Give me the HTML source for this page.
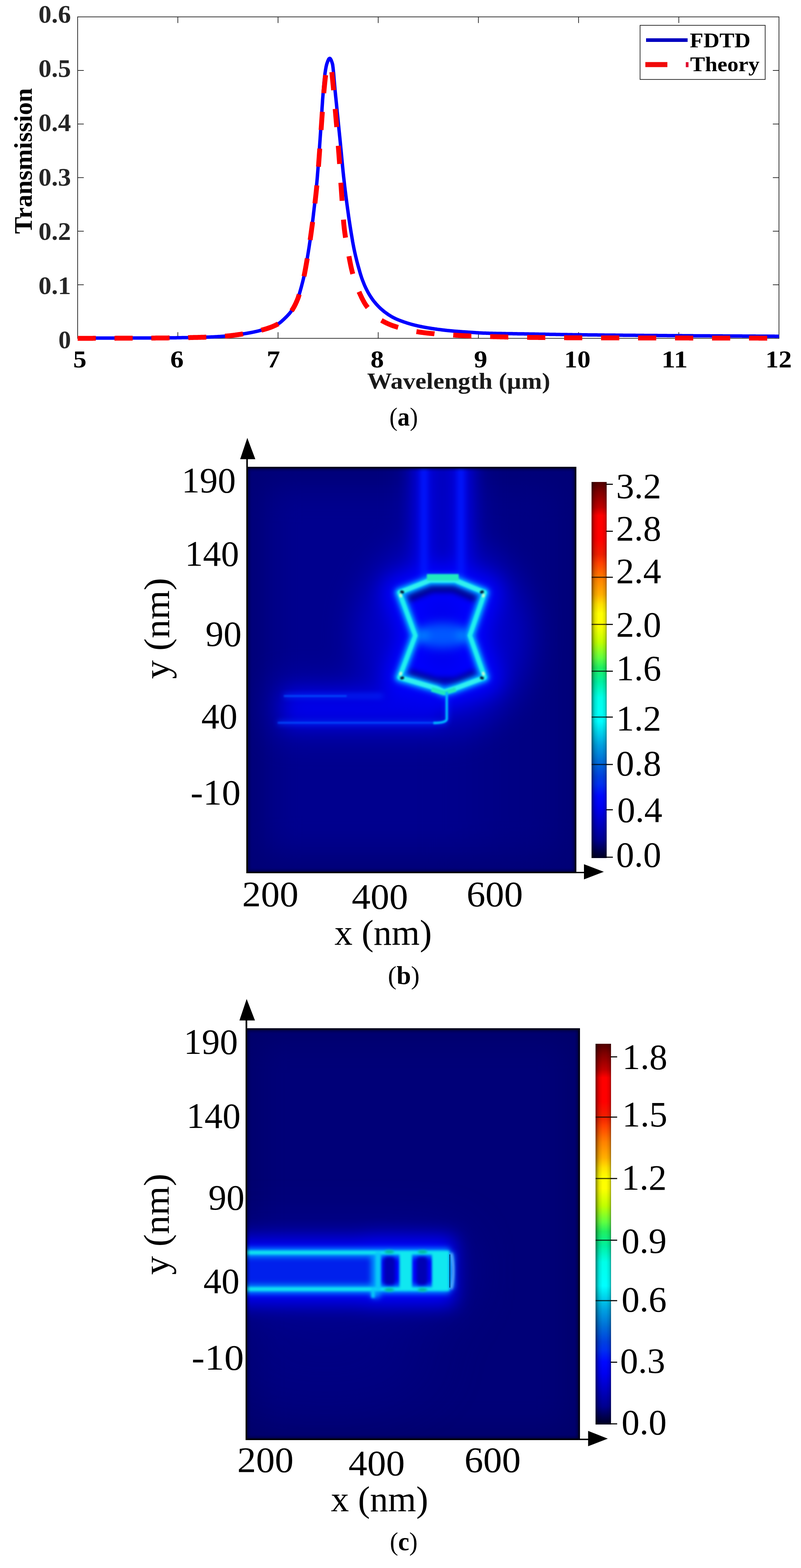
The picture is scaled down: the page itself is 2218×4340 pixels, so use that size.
<!DOCTYPE html>
<html lang="en"><head><meta charset="utf-8"><title>Figure</title>
<style>html,body{margin:0;padding:0;background:#fff;}body{width:2218px;height:4340px;overflow:hidden;}svg{display:block;font-family:'Liberation Serif', 'DejaVu Serif', serif;}text{white-space:pre;}</style>
</head><body>
<svg width="2218" height="4340" viewBox="0 0 2218 4340">
<rect width="2218" height="4340" fill="#fff"/>
<defs>
<linearGradient id="jet" x1="0" y1="1" x2="0" y2="0">
<stop offset="0.000" stop-color="#000020"/>
<stop offset="0.048" stop-color="#000090"/>
<stop offset="0.090" stop-color="#0000c0"/>
<stop offset="0.133" stop-color="#0000f0"/>
<stop offset="0.165" stop-color="#0008ff"/>
<stop offset="0.196" stop-color="#0030f0"/>
<stop offset="0.217" stop-color="#0040e0"/>
<stop offset="0.259" stop-color="#0070d8"/>
<stop offset="0.300" stop-color="#00a0e0"/>
<stop offset="0.343" stop-color="#00e0f0"/>
<stop offset="0.364" stop-color="#00ffff"/>
<stop offset="0.427" stop-color="#00ffe8"/>
<stop offset="0.469" stop-color="#00f0a0"/>
<stop offset="0.507" stop-color="#20f060"/>
<stop offset="0.532" stop-color="#60ff40"/>
<stop offset="0.574" stop-color="#c0ff00"/>
<stop offset="0.620" stop-color="#ffff00"/>
<stop offset="0.650" stop-color="#ffff00"/>
<stop offset="0.675" stop-color="#ffe000"/>
<stop offset="0.700" stop-color="#ffb000"/>
<stop offset="0.743" stop-color="#ff8000"/>
<stop offset="0.785" stop-color="#ff4000"/>
<stop offset="0.807" stop-color="#f02000"/>
<stop offset="0.848" stop-color="#ff0000"/>
<stop offset="0.911" stop-color="#ff0000"/>
<stop offset="0.932" stop-color="#c00000"/>
<stop offset="0.974" stop-color="#800000"/>
<stop offset="1.000" stop-color="#500000"/>
</linearGradient>
<linearGradient id="cbsh" x1="0" y1="0" x2="1" y2="0"><stop offset="0" stop-color="#000" stop-opacity="0.5"/><stop offset="0.22" stop-color="#000" stop-opacity="0.12"/><stop offset="0.45" stop-color="#000" stop-opacity="0"/><stop offset="0.7" stop-color="#000" stop-opacity="0"/><stop offset="0.9" stop-color="#000" stop-opacity="0.12"/><stop offset="1" stop-color="#000" stop-opacity="0.4"/></linearGradient>
</defs>
<g id="panel-a">
<rect x="215.0" y="46.7" width="1942.0" height="889.8" fill="none" stroke="#262626" stroke-width="2"/>
<line x1="492.4" y1="936.5" x2="492.4" y2="919.5" stroke="#262626" stroke-width="2"/>
<line x1="492.4" y1="46.7" x2="492.4" y2="63.7" stroke="#262626" stroke-width="2"/>
<line x1="769.9" y1="936.5" x2="769.9" y2="919.5" stroke="#262626" stroke-width="2"/>
<line x1="769.9" y1="46.7" x2="769.9" y2="63.7" stroke="#262626" stroke-width="2"/>
<line x1="1047.3" y1="936.5" x2="1047.3" y2="919.5" stroke="#262626" stroke-width="2"/>
<line x1="1047.3" y1="46.7" x2="1047.3" y2="63.7" stroke="#262626" stroke-width="2"/>
<line x1="1324.7" y1="936.5" x2="1324.7" y2="919.5" stroke="#262626" stroke-width="2"/>
<line x1="1324.7" y1="46.7" x2="1324.7" y2="63.7" stroke="#262626" stroke-width="2"/>
<line x1="1602.1" y1="936.5" x2="1602.1" y2="919.5" stroke="#262626" stroke-width="2"/>
<line x1="1602.1" y1="46.7" x2="1602.1" y2="63.7" stroke="#262626" stroke-width="2"/>
<line x1="1879.6" y1="936.5" x2="1879.6" y2="919.5" stroke="#262626" stroke-width="2"/>
<line x1="1879.6" y1="46.7" x2="1879.6" y2="63.7" stroke="#262626" stroke-width="2"/>
<line x1="215.0" y1="788.2" x2="232.0" y2="788.2" stroke="#262626" stroke-width="2"/>
<line x1="2157.0" y1="788.2" x2="2140.0" y2="788.2" stroke="#262626" stroke-width="2"/>
<line x1="215.0" y1="639.9" x2="232.0" y2="639.9" stroke="#262626" stroke-width="2"/>
<line x1="2157.0" y1="639.9" x2="2140.0" y2="639.9" stroke="#262626" stroke-width="2"/>
<line x1="215.0" y1="491.6" x2="232.0" y2="491.6" stroke="#262626" stroke-width="2"/>
<line x1="2157.0" y1="491.6" x2="2140.0" y2="491.6" stroke="#262626" stroke-width="2"/>
<line x1="215.0" y1="343.3" x2="232.0" y2="343.3" stroke="#262626" stroke-width="2"/>
<line x1="2157.0" y1="343.3" x2="2140.0" y2="343.3" stroke="#262626" stroke-width="2"/>
<line x1="215.0" y1="195.0" x2="232.0" y2="195.0" stroke="#262626" stroke-width="2"/>
<line x1="2157.0" y1="195.0" x2="2140.0" y2="195.0" stroke="#262626" stroke-width="2"/>
<path d="M215.0,935.9 L216.4,935.9 L217.8,935.9 L219.2,935.9 L220.5,935.9 L221.9,935.9 L223.3,935.9 L224.7,935.9 L226.1,935.9 L227.5,935.9 L228.9,935.9 L230.3,935.9 L231.6,935.9 L233.0,935.9 L234.4,935.9 L235.8,935.9 L237.2,935.9 L238.6,935.8 L240.0,935.8 L241.4,935.8 L242.7,935.8 L244.1,935.8 L245.5,935.8 L246.9,935.8 L248.3,935.8 L249.7,935.8 L251.1,935.8 L252.5,935.8 L253.8,935.8 L255.2,935.8 L256.6,935.8 L258.0,935.8 L259.4,935.8 L260.8,935.8 L262.2,935.8 L263.5,935.8 L264.9,935.8 L266.3,935.8 L267.7,935.8 L269.1,935.8 L270.5,935.8 L271.9,935.8 L273.3,935.8 L274.6,935.8 L276.0,935.8 L277.4,935.8 L278.8,935.8 L280.2,935.8 L281.6,935.8 L283.0,935.8 L284.4,935.8 L285.7,935.8 L287.1,935.7 L288.5,935.7 L289.9,935.7 L291.3,935.7 L292.7,935.7 L294.1,935.7 L295.5,935.7 L296.8,935.7 L298.2,935.7 L299.6,935.7 L301.0,935.7 L302.4,935.7 L303.8,935.7 L305.2,935.7 L306.6,935.7 L307.9,935.7 L309.3,935.7 L310.7,935.7 L312.1,935.7 L313.5,935.7 L314.9,935.7 L316.3,935.7 L317.6,935.7 L319.0,935.7 L320.4,935.7 L321.8,935.7 L323.2,935.7 L324.6,935.7 L326.0,935.7 L327.4,935.7 L328.7,935.7 L330.1,935.7 L331.5,935.7 L332.9,935.7 L334.3,935.7 L335.7,935.6 L337.1,935.6 L338.5,935.6 L339.8,935.6 L341.2,935.6 L342.6,935.6 L344.0,935.6 L345.4,935.6 L346.8,935.6 L348.2,935.6 L349.6,935.6 L350.9,935.6 L352.3,935.6 L353.7,935.6 L355.1,935.6 L356.5,935.6 L357.9,935.6 L359.3,935.6 L360.7,935.6 L362.0,935.6 L363.4,935.6 L364.8,935.6 L366.2,935.6 L367.6,935.6 L369.0,935.6 L370.4,935.6 L371.7,935.6 L373.1,935.6 L374.5,935.5 L375.9,935.5 L377.3,935.5 L378.7,935.5 L380.1,935.5 L381.5,935.5 L382.8,935.5 L384.2,935.5 L385.6,935.5 L387.0,935.5 L388.4,935.5 L389.8,935.5 L391.2,935.5 L392.6,935.5 L393.9,935.5 L395.3,935.5 L396.7,935.5 L398.1,935.5 L399.5,935.5 L400.9,935.5 L402.3,935.5 L403.7,935.5 L405.0,935.4 L406.4,935.4 L407.8,935.4 L409.2,935.4 L410.6,935.4 L412.0,935.4 L413.4,935.4 L414.7,935.4 L416.1,935.4 L417.5,935.4 L418.9,935.4 L420.3,935.4 L421.7,935.4 L423.1,935.4 L424.5,935.4 L425.8,935.4 L427.2,935.4 L428.6,935.4 L430.0,935.3 L431.4,935.3 L432.8,935.3 L434.2,935.3 L435.6,935.3 L436.9,935.3 L438.3,935.3 L439.7,935.3 L441.1,935.3 L442.5,935.3 L443.9,935.3 L445.3,935.3 L446.7,935.3 L448.0,935.3 L449.4,935.2 L450.8,935.2 L452.2,935.2 L453.6,935.2 L455.0,935.2 L456.4,935.2 L457.8,935.2 L459.1,935.2 L460.5,935.2 L461.9,935.1 L463.3,935.1 L464.7,935.1 L466.1,935.1 L467.5,935.1 L468.8,935.1 L470.2,935.1 L471.6,935.0 L473.0,935.0 L474.4,935.0 L475.8,935.0 L477.2,935.0 L478.6,935.0 L479.9,935.0 L481.3,934.9 L482.7,934.9 L484.1,934.9 L485.5,934.9 L486.9,934.9 L488.3,934.9 L489.7,934.8 L491.0,934.8 L492.4,934.8 L493.8,934.8 L495.2,934.8 L496.6,934.7 L498.0,934.7 L499.4,934.7 L500.8,934.7 L502.1,934.7 L503.5,934.6 L504.9,934.6 L506.3,934.6 L507.7,934.6 L509.1,934.6 L510.5,934.5 L511.8,934.5 L513.2,934.5 L514.6,934.5 L516.0,934.4 L517.4,934.4 L518.8,934.4 L520.2,934.4 L521.6,934.3 L522.9,934.3 L524.3,934.3 L525.7,934.3 L527.1,934.2 L528.5,934.2 L529.9,934.2 L531.3,934.2 L532.7,934.1 L534.0,934.1 L535.4,934.1 L536.8,934.0 L538.2,934.0 L539.6,934.0 L541.0,934.0 L542.4,933.9 L543.8,933.9 L545.1,933.9 L546.5,933.8 L547.9,933.8 L549.3,933.8 L550.7,933.7 L552.1,933.7 L553.5,933.7 L554.8,933.7 L556.2,933.6 L557.6,933.6 L559.0,933.6 L560.4,933.5 L561.8,933.5 L563.2,933.5 L564.6,933.4 L565.9,933.4 L567.3,933.3 L568.7,933.3 L570.1,933.2 L571.5,933.2 L572.9,933.2 L574.3,933.1 L575.7,933.1 L577.0,933.0 L578.4,932.9 L579.8,932.9 L581.2,932.8 L582.6,932.8 L584.0,932.7 L585.4,932.6 L586.8,932.6 L588.1,932.5 L589.5,932.4 L590.9,932.4 L592.3,932.3 L593.7,932.2 L595.1,932.2 L596.5,932.1 L597.9,932.0 L599.2,931.9 L600.6,931.9 L602.0,931.8 L603.4,931.7 L604.8,931.6 L606.2,931.5 L607.6,931.4 L608.9,931.4 L610.3,931.3 L611.7,931.2 L613.1,931.1 L614.5,931.0 L615.9,930.9 L617.3,930.8 L618.7,930.7 L620.0,930.6 L621.4,930.5 L622.8,930.4 L624.2,930.3 L625.6,930.2 L627.0,930.1 L628.4,930.0 L629.8,929.8 L631.1,929.7 L632.5,929.6 L633.9,929.4 L635.3,929.3 L636.7,929.1 L638.1,929.0 L639.5,928.8 L640.9,928.7 L642.2,928.5 L643.6,928.4 L645.0,928.2 L646.4,928.0 L647.8,927.8 L649.2,927.7 L650.6,927.5 L652.0,927.3 L653.3,927.1 L654.7,926.9 L656.1,926.7 L657.5,926.5 L658.9,926.3 L660.3,926.1 L661.7,925.9 L663.0,925.7 L664.4,925.5 L665.8,925.3 L667.2,925.1 L668.6,924.9 L670.0,924.7 L671.4,924.5 L672.8,924.3 L674.1,924.0 L675.5,923.8 L676.9,923.6 L678.3,923.4 L679.7,923.2 L681.1,922.9 L682.5,922.7 L683.9,922.5 L685.2,922.3 L686.6,922.0 L688.0,921.8 L689.4,921.5 L690.8,921.3 L692.2,921.0 L693.6,920.8 L695.0,920.5 L696.3,920.2 L697.7,920.0 L699.1,919.7 L700.5,919.4 L701.9,919.1 L703.3,918.8 L704.7,918.5 L706.0,918.2 L707.4,917.9 L708.8,917.6 L710.2,917.3 L711.6,917.0 L713.0,916.6 L714.4,916.3 L715.8,916.0 L717.1,915.6 L718.5,915.3 L719.9,914.9 L721.3,914.5 L722.7,914.2 L724.1,913.8 L725.5,913.4 L726.9,913.1 L728.2,912.7 L729.6,912.3 L731.0,911.9 L732.4,911.5 L733.8,911.1 L735.2,910.7 L736.6,910.2 L738.0,909.8 L739.3,909.4 L740.7,908.9 L742.1,908.5 L743.5,908.0 L744.9,907.5 L746.3,907.1 L747.7,906.6 L749.0,906.0 L750.4,905.5 L751.8,905.0 L753.2,904.4 L754.6,903.9 L756.0,903.3 L757.4,902.7 L758.8,902.1 L760.1,901.5 L761.5,900.8 L762.9,900.2 L764.3,899.5 L765.7,898.8 L767.1,898.1 L768.5,897.4 L769.9,896.6 L771.2,895.8 L772.6,894.9 L774.0,894.0 L775.4,892.9 L776.8,891.9 L778.2,890.7 L779.6,889.6 L781.0,888.3 L782.3,887.1 L783.7,885.8 L785.1,884.5 L786.5,883.2 L787.9,881.8 L789.3,880.5 L790.7,879.1 L792.1,877.8 L793.4,876.4 L794.8,875.0 L796.2,873.6 L797.6,872.1 L799.0,870.6 L800.4,869.0 L801.8,867.4 L803.1,865.8 L804.5,864.0 L805.9,862.2 L807.3,860.3 L808.7,858.3 L810.1,856.3 L811.5,854.1 L812.9,851.7 L814.2,849.3 L815.6,846.7 L817.0,844.0 L818.4,841.1 L819.8,838.1 L821.2,835.0 L822.6,831.7 L824.0,828.3 L825.3,824.7 L826.7,820.6 L828.1,816.2 L829.5,811.5 L830.9,806.6 L832.3,801.6 L833.7,796.6 L835.1,791.5 L836.4,786.4 L837.8,781.1 L839.2,775.5 L840.6,769.7 L842.0,763.6 L843.4,757.1 L844.8,749.9 L846.2,742.3 L847.5,734.3 L848.9,726.3 L850.3,718.2 L851.7,709.8 L853.1,701.3 L854.5,692.6 L855.9,683.8 L857.2,674.9 L858.6,665.6 L860.0,655.6 L861.4,645.3 L862.8,634.8 L864.2,624.1 L865.6,613.2 L867.0,601.9 L868.3,590.4 L869.7,578.4 L871.1,566.1 L872.5,553.3 L873.9,540.0 L875.3,526.2 L876.7,511.9 L878.1,497.0 L879.4,480.8 L880.8,463.1 L882.2,444.3 L883.6,424.7 L885.0,404.5 L886.4,384.1 L887.8,363.7 L889.2,342.9 L890.5,320.5 L891.9,297.9 L893.3,276.5 L894.7,257.8 L896.1,240.7 L897.5,225.0 L898.9,211.6 L900.2,201.4 L901.6,192.5 L903.0,184.8 L904.4,178.8 L905.8,174.4 L907.2,170.5 L908.6,167.0 L910.0,164.2 L911.3,162.3 L912.7,161.5 L914.1,162.0 L915.5,163.7 L916.9,166.3 L918.3,169.7 L919.7,173.7 L921.1,178.8 L922.4,188.9 L923.8,203.2 L925.2,219.8 L926.6,236.7 L928.0,251.9 L929.4,265.8 L930.8,279.6 L932.2,293.4 L933.5,307.2 L934.9,321.0 L936.3,334.8 L937.7,348.6 L939.1,362.4 L940.5,376.3 L941.9,390.2 L943.2,404.1 L944.6,418.4 L946.0,433.1 L947.4,447.9 L948.8,462.5 L950.2,476.7 L951.6,490.1 L953.0,502.4 L954.3,514.2 L955.7,525.7 L957.1,536.9 L958.5,547.9 L959.9,558.6 L961.3,569.1 L962.7,579.3 L964.1,589.3 L965.4,599.1 L966.8,608.6 L968.2,617.9 L969.6,626.9 L971.0,635.8 L972.4,644.4 L973.8,652.8 L975.2,661.0 L976.5,669.0 L977.9,676.5 L979.3,683.8 L980.7,690.7 L982.1,697.2 L983.5,703.5 L984.9,709.5 L986.3,715.2 L987.6,720.8 L989.0,726.1 L990.4,731.3 L991.8,736.4 L993.2,741.4 L994.6,746.3 L996.0,751.2 L997.3,755.9 L998.7,760.5 L1000.1,764.9 L1001.5,769.1 L1002.9,773.0 L1004.3,776.8 L1005.7,780.3 L1007.1,783.8 L1008.4,787.1 L1009.8,790.4 L1011.2,793.5 L1012.6,796.5 L1014.0,799.4 L1015.4,802.2 L1016.8,804.9 L1018.2,807.5 L1019.5,809.9 L1020.9,812.4 L1022.3,814.7 L1023.7,817.0 L1025.1,819.3 L1026.5,821.4 L1027.9,823.5 L1029.3,825.6 L1030.6,827.5 L1032.0,829.5 L1033.4,831.3 L1034.8,833.1 L1036.2,834.9 L1037.6,836.6 L1039.0,838.2 L1040.3,839.9 L1041.7,841.4 L1043.1,843.0 L1044.5,844.5 L1045.9,846.0 L1047.3,847.5 L1048.7,848.9 L1050.1,850.3 L1051.4,851.6 L1052.8,852.9 L1054.2,854.2 L1055.6,855.5 L1057.0,856.7 L1058.4,857.9 L1059.8,859.1 L1061.2,860.2 L1062.5,861.3 L1063.9,862.4 L1065.3,863.5 L1066.7,864.5 L1068.1,865.6 L1069.5,866.6 L1070.9,867.6 L1072.3,868.6 L1073.6,869.5 L1075.0,870.5 L1076.4,871.4 L1077.8,872.3 L1079.2,873.2 L1080.6,874.1 L1082.0,874.9 L1083.4,875.8 L1084.7,876.6 L1086.1,877.4 L1087.5,878.1 L1088.9,878.9 L1090.3,879.6 L1091.7,880.3 L1093.1,881.0 L1094.4,881.6 L1095.8,882.3 L1097.2,882.9 L1098.6,883.5 L1100.0,884.1 L1101.4,884.7 L1102.8,885.3 L1104.2,885.9 L1105.5,886.4 L1106.9,887.0 L1108.3,887.5 L1109.7,888.0 L1111.1,888.5 L1112.5,889.0 L1113.9,889.5 L1115.3,890.0 L1116.6,890.5 L1118.0,891.0 L1119.4,891.5 L1120.8,891.9 L1122.2,892.4 L1123.6,892.8 L1125.0,893.3 L1126.4,893.7 L1127.7,894.2 L1129.1,894.6 L1130.5,895.0 L1131.9,895.5 L1133.3,895.9 L1134.7,896.3 L1136.1,896.7 L1137.4,897.1 L1138.8,897.5 L1140.2,897.9 L1141.6,898.2 L1143.0,898.6 L1144.4,899.0 L1145.8,899.3 L1147.2,899.7 L1148.5,900.0 L1149.9,900.4 L1151.3,900.7 L1152.7,901.0 L1154.1,901.4 L1155.5,901.7 L1156.9,902.0 L1158.3,902.3 L1159.6,902.6 L1161.0,902.9 L1162.4,903.2 L1163.8,903.5 L1165.2,903.8 L1166.6,904.0 L1168.0,904.3 L1169.4,904.6 L1170.7,904.9 L1172.1,905.1 L1173.5,905.4 L1174.9,905.7 L1176.3,905.9 L1177.7,906.2 L1179.1,906.4 L1180.5,906.7 L1181.8,906.9 L1183.2,907.1 L1184.6,907.4 L1186.0,907.6 L1187.4,907.8 L1188.8,908.1 L1190.2,908.3 L1191.5,908.5 L1192.9,908.7 L1194.3,909.0 L1195.7,909.2 L1197.1,909.4 L1198.5,909.6 L1199.9,909.8 L1201.3,910.0 L1202.6,910.2 L1204.0,910.4 L1205.4,910.6 L1206.8,910.8 L1208.2,911.0 L1209.6,911.2 L1211.0,911.4 L1212.4,911.6 L1213.7,911.8 L1215.1,911.9 L1216.5,912.1 L1217.9,912.3 L1219.3,912.5 L1220.7,912.6 L1222.1,912.8 L1223.5,913.0 L1224.8,913.2 L1226.2,913.3 L1227.6,913.5 L1229.0,913.7 L1230.4,913.8 L1231.8,914.0 L1233.2,914.2 L1234.6,914.3 L1235.9,914.5 L1237.3,914.6 L1238.7,914.8 L1240.1,914.9 L1241.5,915.0 L1242.9,915.2 L1244.3,915.3 L1245.6,915.5 L1247.0,915.6 L1248.4,915.7 L1249.8,915.8 L1251.2,916.0 L1252.6,916.1 L1254.0,916.2 L1255.4,916.3 L1256.7,916.4 L1258.1,916.6 L1259.5,916.7 L1260.9,916.8 L1262.3,916.9 L1263.7,917.0 L1265.1,917.1 L1266.5,917.2 L1267.8,917.3 L1269.2,917.4 L1270.6,917.5 L1272.0,917.6 L1273.4,917.7 L1274.8,917.9 L1276.2,918.0 L1277.6,918.1 L1278.9,918.2 L1280.3,918.3 L1281.7,918.4 L1283.1,918.5 L1284.5,918.6 L1285.9,918.6 L1287.3,918.7 L1288.6,918.8 L1290.0,918.9 L1291.4,919.0 L1292.8,919.1 L1294.2,919.2 L1295.6,919.3 L1297.0,919.4 L1298.4,919.5 L1299.7,919.6 L1301.1,919.7 L1302.5,919.8 L1303.9,919.8 L1305.3,919.9 L1306.7,920.0 L1308.1,920.1 L1309.5,920.2 L1310.8,920.3 L1312.2,920.4 L1313.6,920.5 L1315.0,920.6 L1316.4,920.7 L1317.8,920.8 L1319.2,920.9 L1320.6,921.0 L1321.9,921.0 L1323.3,921.1 L1324.7,921.2 L1326.1,921.3 L1327.5,921.4 L1328.9,921.5 L1330.3,921.5 L1331.7,921.6 L1333.0,921.7 L1334.4,921.7 L1335.8,921.8 L1337.2,921.9 L1338.6,921.9 L1340.0,922.0 L1341.4,922.0 L1342.7,922.1 L1344.1,922.1 L1345.5,922.1 L1346.9,922.2 L1348.3,922.2 L1349.7,922.3 L1351.1,922.3 L1352.5,922.3 L1353.8,922.4 L1355.2,922.4 L1356.6,922.4 L1358.0,922.5 L1359.4,922.5 L1360.8,922.6 L1362.2,922.6 L1363.6,922.6 L1364.9,922.7 L1366.3,922.7 L1367.7,922.7 L1369.1,922.8 L1370.5,922.8 L1371.9,922.8 L1373.3,922.8 L1374.7,922.9 L1376.0,922.9 L1377.4,922.9 L1378.8,923.0 L1380.2,923.0 L1381.6,923.0 L1383.0,923.0 L1384.4,923.1 L1385.7,923.1 L1387.1,923.1 L1388.5,923.1 L1389.9,923.2 L1391.3,923.2 L1392.7,923.2 L1394.1,923.2 L1395.5,923.3 L1396.8,923.3 L1398.2,923.3 L1399.6,923.3 L1401.0,923.4 L1402.4,923.4 L1403.8,923.4 L1405.2,923.4 L1406.6,923.5 L1407.9,923.5 L1409.3,923.5 L1410.7,923.5 L1412.1,923.5 L1413.5,923.6 L1414.9,923.6 L1416.3,923.6 L1417.7,923.6 L1419.0,923.6 L1420.4,923.7 L1421.8,923.7 L1423.2,923.7 L1424.6,923.7 L1426.0,923.8 L1427.4,923.8 L1428.8,923.8 L1430.1,923.8 L1431.5,923.8 L1432.9,923.9 L1434.3,923.9 L1435.7,923.9 L1437.1,923.9 L1438.5,923.9 L1439.8,924.0 L1441.2,924.0 L1442.6,924.0 L1444.0,924.0 L1445.4,924.0 L1446.8,924.1 L1448.2,924.1 L1449.6,924.1 L1450.9,924.1 L1452.3,924.2 L1453.7,924.2 L1455.1,924.2 L1456.5,924.2 L1457.9,924.2 L1459.3,924.3 L1460.7,924.3 L1462.0,924.3 L1463.4,924.3 L1464.8,924.4 L1466.2,924.4 L1467.6,924.4 L1469.0,924.4 L1470.4,924.5 L1471.8,924.5 L1473.1,924.5 L1474.5,924.5 L1475.9,924.6 L1477.3,924.6 L1478.7,924.6 L1480.1,924.6 L1481.5,924.7 L1482.8,924.7 L1484.2,924.7 L1485.6,924.7 L1487.0,924.8 L1488.4,924.8 L1489.8,924.8 L1491.2,924.8 L1492.6,924.9 L1493.9,924.9 L1495.3,924.9 L1496.7,924.9 L1498.1,925.0 L1499.5,925.0 L1500.9,925.0 L1502.3,925.0 L1503.7,925.0 L1505.0,925.1 L1506.4,925.1 L1507.8,925.1 L1509.2,925.1 L1510.6,925.2 L1512.0,925.2 L1513.4,925.2 L1514.8,925.2 L1516.1,925.3 L1517.5,925.3 L1518.9,925.3 L1520.3,925.3 L1521.7,925.4 L1523.1,925.4 L1524.5,925.4 L1525.8,925.4 L1527.2,925.5 L1528.6,925.5 L1530.0,925.5 L1531.4,925.5 L1532.8,925.5 L1534.2,925.6 L1535.6,925.6 L1536.9,925.6 L1538.3,925.6 L1539.7,925.7 L1541.1,925.7 L1542.5,925.7 L1543.9,925.7 L1545.3,925.8 L1546.7,925.8 L1548.0,925.8 L1549.4,925.8 L1550.8,925.8 L1552.2,925.9 L1553.6,925.9 L1555.0,925.9 L1556.4,925.9 L1557.8,925.9 L1559.1,926.0 L1560.5,926.0 L1561.9,926.0 L1563.3,926.0 L1564.7,926.1 L1566.1,926.1 L1567.5,926.1 L1568.9,926.1 L1570.2,926.1 L1571.6,926.2 L1573.0,926.2 L1574.4,926.2 L1575.8,926.2 L1577.2,926.2 L1578.6,926.3 L1579.9,926.3 L1581.3,926.3 L1582.7,926.3 L1584.1,926.3 L1585.5,926.4 L1586.9,926.4 L1588.3,926.4 L1589.7,926.4 L1591.0,926.4 L1592.4,926.4 L1593.8,926.5 L1595.2,926.5 L1596.6,926.5 L1598.0,926.5 L1599.4,926.5 L1600.8,926.5 L1602.1,926.6 L1603.5,926.6 L1604.9,926.6 L1606.3,926.6 L1607.7,926.6 L1609.1,926.6 L1610.5,926.7 L1611.9,926.7 L1613.2,926.7 L1614.6,926.7 L1616.0,926.7 L1617.4,926.7 L1618.8,926.8 L1620.2,926.8 L1621.6,926.8 L1622.9,926.8 L1624.3,926.8 L1625.7,926.8 L1627.1,926.9 L1628.5,926.9 L1629.9,926.9 L1631.3,926.9 L1632.7,926.9 L1634.0,926.9 L1635.4,926.9 L1636.8,927.0 L1638.2,927.0 L1639.6,927.0 L1641.0,927.0 L1642.4,927.0 L1643.8,927.0 L1645.1,927.1 L1646.5,927.1 L1647.9,927.1 L1649.3,927.1 L1650.7,927.1 L1652.1,927.1 L1653.5,927.1 L1654.9,927.2 L1656.2,927.2 L1657.6,927.2 L1659.0,927.2 L1660.4,927.2 L1661.8,927.2 L1663.2,927.2 L1664.6,927.3 L1666.0,927.3 L1667.3,927.3 L1668.7,927.3 L1670.1,927.3 L1671.5,927.3 L1672.9,927.3 L1674.3,927.4 L1675.7,927.4 L1677.0,927.4 L1678.4,927.4 L1679.8,927.4 L1681.2,927.4 L1682.6,927.4 L1684.0,927.5 L1685.4,927.5 L1686.8,927.5 L1688.1,927.5 L1689.5,927.5 L1690.9,927.5 L1692.3,927.5 L1693.7,927.6 L1695.1,927.6 L1696.5,927.6 L1697.9,927.6 L1699.2,927.6 L1700.6,927.6 L1702.0,927.6 L1703.4,927.6 L1704.8,927.7 L1706.2,927.7 L1707.6,927.7 L1709.0,927.7 L1710.3,927.7 L1711.7,927.7 L1713.1,927.7 L1714.5,927.8 L1715.9,927.8 L1717.3,927.8 L1718.7,927.8 L1720.1,927.8 L1721.4,927.8 L1722.8,927.8 L1724.2,927.8 L1725.6,927.9 L1727.0,927.9 L1728.4,927.9 L1729.8,927.9 L1731.1,927.9 L1732.5,927.9 L1733.9,927.9 L1735.3,927.9 L1736.7,928.0 L1738.1,928.0 L1739.5,928.0 L1740.9,928.0 L1742.2,928.0 L1743.6,928.0 L1745.0,928.0 L1746.4,928.0 L1747.8,928.1 L1749.2,928.1 L1750.6,928.1 L1752.0,928.1 L1753.3,928.1 L1754.7,928.1 L1756.1,928.1 L1757.5,928.1 L1758.9,928.1 L1760.3,928.2 L1761.7,928.2 L1763.1,928.2 L1764.4,928.2 L1765.8,928.2 L1767.2,928.2 L1768.6,928.2 L1770.0,928.2 L1771.4,928.3 L1772.8,928.3 L1774.1,928.3 L1775.5,928.3 L1776.9,928.3 L1778.3,928.3 L1779.7,928.3 L1781.1,928.3 L1782.5,928.3 L1783.9,928.4 L1785.2,928.4 L1786.6,928.4 L1788.0,928.4 L1789.4,928.4 L1790.8,928.4 L1792.2,928.4 L1793.6,928.4 L1795.0,928.4 L1796.3,928.5 L1797.7,928.5 L1799.1,928.5 L1800.5,928.5 L1801.9,928.5 L1803.3,928.5 L1804.7,928.5 L1806.1,928.5 L1807.4,928.5 L1808.8,928.6 L1810.2,928.6 L1811.6,928.6 L1813.0,928.6 L1814.4,928.6 L1815.8,928.6 L1817.2,928.6 L1818.5,928.6 L1819.9,928.6 L1821.3,928.7 L1822.7,928.7 L1824.1,928.7 L1825.5,928.7 L1826.9,928.7 L1828.2,928.7 L1829.6,928.7 L1831.0,928.7 L1832.4,928.7 L1833.8,928.7 L1835.2,928.8 L1836.6,928.8 L1838.0,928.8 L1839.3,928.8 L1840.7,928.8 L1842.1,928.8 L1843.5,928.8 L1844.9,928.8 L1846.3,928.8 L1847.7,928.9 L1849.1,928.9 L1850.4,928.9 L1851.8,928.9 L1853.2,928.9 L1854.6,928.9 L1856.0,928.9 L1857.4,928.9 L1858.8,928.9 L1860.2,928.9 L1861.5,929.0 L1862.9,929.0 L1864.3,929.0 L1865.7,929.0 L1867.1,929.0 L1868.5,929.0 L1869.9,929.0 L1871.2,929.0 L1872.6,929.0 L1874.0,929.0 L1875.4,929.1 L1876.8,929.1 L1878.2,929.1 L1879.6,929.1 L1881.0,929.1 L1882.3,929.1 L1883.7,929.1 L1885.1,929.1 L1886.5,929.1 L1887.9,929.1 L1889.3,929.2 L1890.7,929.2 L1892.1,929.2 L1893.4,929.2 L1894.8,929.2 L1896.2,929.2 L1897.6,929.2 L1899.0,929.2 L1900.4,929.2 L1901.8,929.2 L1903.2,929.2 L1904.5,929.3 L1905.9,929.3 L1907.3,929.3 L1908.7,929.3 L1910.1,929.3 L1911.5,929.3 L1912.9,929.3 L1914.2,929.3 L1915.6,929.3 L1917.0,929.3 L1918.4,929.3 L1919.8,929.4 L1921.2,929.4 L1922.6,929.4 L1924.0,929.4 L1925.3,929.4 L1926.7,929.4 L1928.1,929.4 L1929.5,929.4 L1930.9,929.4 L1932.3,929.4 L1933.7,929.4 L1935.1,929.5 L1936.4,929.5 L1937.8,929.5 L1939.2,929.5 L1940.6,929.5 L1942.0,929.5 L1943.4,929.5 L1944.8,929.5 L1946.2,929.5 L1947.5,929.5 L1948.9,929.5 L1950.3,929.6 L1951.7,929.6 L1953.1,929.6 L1954.5,929.6 L1955.9,929.6 L1957.3,929.6 L1958.6,929.6 L1960.0,929.6 L1961.4,929.6 L1962.8,929.6 L1964.2,929.6 L1965.6,929.6 L1967.0,929.7 L1968.3,929.7 L1969.7,929.7 L1971.1,929.7 L1972.5,929.7 L1973.9,929.7 L1975.3,929.7 L1976.7,929.7 L1978.1,929.7 L1979.4,929.7 L1980.8,929.7 L1982.2,929.7 L1983.6,929.7 L1985.0,929.8 L1986.4,929.8 L1987.8,929.8 L1989.2,929.8 L1990.5,929.8 L1991.9,929.8 L1993.3,929.8 L1994.7,929.8 L1996.1,929.8 L1997.5,929.8 L1998.9,929.8 L2000.3,929.8 L2001.6,929.9 L2003.0,929.9 L2004.4,929.9 L2005.8,929.9 L2007.2,929.9 L2008.6,929.9 L2010.0,929.9 L2011.3,929.9 L2012.7,929.9 L2014.1,929.9 L2015.5,929.9 L2016.9,929.9 L2018.3,929.9 L2019.7,930.0 L2021.1,930.0 L2022.4,930.0 L2023.8,930.0 L2025.2,930.0 L2026.6,930.0 L2028.0,930.0 L2029.4,930.0 L2030.8,930.0 L2032.2,930.0 L2033.5,930.0 L2034.9,930.0 L2036.3,930.0 L2037.7,930.1 L2039.1,930.1 L2040.5,930.1 L2041.9,930.1 L2043.3,930.1 L2044.6,930.1 L2046.0,930.1 L2047.4,930.1 L2048.8,930.1 L2050.2,930.1 L2051.6,930.1 L2053.0,930.1 L2054.4,930.1 L2055.7,930.2 L2057.1,930.2 L2058.5,930.2 L2059.9,930.2 L2061.3,930.2 L2062.7,930.2 L2064.1,930.2 L2065.4,930.2 L2066.8,930.2 L2068.2,930.2 L2069.6,930.2 L2071.0,930.2 L2072.4,930.2 L2073.8,930.2 L2075.2,930.3 L2076.5,930.3 L2077.9,930.3 L2079.3,930.3 L2080.7,930.3 L2082.1,930.3 L2083.5,930.3 L2084.9,930.3 L2086.3,930.3 L2087.6,930.3 L2089.0,930.3 L2090.4,930.3 L2091.8,930.3 L2093.2,930.4 L2094.6,930.4 L2096.0,930.4 L2097.4,930.4 L2098.7,930.4 L2100.1,930.4 L2101.5,930.4 L2102.9,930.4 L2104.3,930.4 L2105.7,930.4 L2107.1,930.4 L2108.4,930.4 L2109.8,930.4 L2111.2,930.5 L2112.6,930.5 L2114.0,930.5 L2115.4,930.5 L2116.8,930.5 L2118.2,930.5 L2119.5,930.5 L2120.9,930.5 L2122.3,930.5 L2123.7,930.5 L2125.1,930.5 L2126.5,930.5 L2127.9,930.5 L2129.3,930.6 L2130.6,930.6 L2132.0,930.6 L2133.4,930.6 L2134.8,930.6 L2136.2,930.6 L2137.6,930.6 L2139.0,930.6 L2140.4,930.6 L2141.7,930.6 L2143.1,930.6 L2144.5,930.6 L2145.9,930.7 L2147.3,930.7 L2148.7,930.7 L2150.1,930.7 L2151.5,930.7 L2152.8,930.7 L2154.2,930.7 L2155.6,930.7 L2157.0,930.7" fill="none" stroke="#0000ff" stroke-width="9.5" stroke-linejoin="round"/>
<path d="M215.0,936.5 L216.0,936.5 L217.0,936.5 L218.0,936.5 L219.0,936.5 L220.0,936.5 L221.0,936.5 L222.0,936.5 L223.0,936.5 L224.0,936.5 L225.0,936.5 L226.0,936.5 L226.9,936.5 L227.9,936.5 L228.9,936.4 L229.9,936.4 L230.9,936.4 L231.9,936.4 L232.9,936.4 L233.9,936.4 L234.9,936.4 L235.9,936.4 L236.9,936.4 L237.9,936.4 L238.9,936.4 L239.9,936.4 L240.9,936.4 L241.9,936.4 L242.9,936.4 L243.9,936.4 L244.9,936.4 L245.9,936.4 L246.9,936.4 L247.9,936.4 L248.8,936.4 L249.8,936.4 L250.8,936.4 L251.8,936.4 L252.8,936.4 L253.8,936.4 L254.8,936.4 L255.8,936.4 L256.8,936.4 L257.8,936.3 L258.8,936.3 L259.8,936.3 L260.8,936.3 L261.8,936.3 L262.8,936.3 L263.8,936.3 L264.8,936.3 L265.8,936.3 L266.8,936.3 L267.8,936.3 L268.8,936.3 L269.8,936.3 L270.8,936.3 L271.7,936.3 L272.7,936.3 L273.7,936.3 L274.7,936.3 L275.7,936.3 L276.7,936.3 L277.7,936.3 L278.7,936.3 L279.7,936.3 L280.7,936.3 L281.7,936.3 L282.7,936.3 L283.7,936.3 L284.7,936.3 L285.7,936.3 L286.7,936.3 L287.7,936.3 L288.7,936.3 L289.7,936.2 L290.7,936.2 L291.7,936.2 L292.7,936.2 L293.7,936.2 L294.6,936.2 L295.6,936.2 L296.6,936.2 L297.6,936.2 L298.6,936.2 L299.6,936.2 L300.6,936.2 L301.6,936.2 L302.6,936.2 L303.6,936.2 L304.6,936.2 L305.6,936.2 L306.6,936.2 L307.6,936.2 L308.6,936.2 L309.6,936.2 L310.6,936.2 L311.6,936.2 L312.6,936.2 L313.6,936.2 L314.6,936.2 L315.6,936.2 L316.5,936.2 L317.5,936.2 L318.5,936.2 L319.5,936.2 L320.5,936.2 L321.5,936.1 L322.5,936.1 L323.5,936.1 L324.5,936.1 L325.5,936.1 L326.5,936.1 L327.5,936.1 L328.5,936.1 L329.5,936.1 L330.5,936.1 L331.5,936.1 L332.5,936.1 L333.5,936.1 L334.5,936.1 L335.5,936.1 L336.5,936.1 L337.5,936.1 L338.5,936.1 L339.4,936.1 L340.4,936.1 L341.4,936.1 L342.4,936.1 L343.4,936.1 L344.4,936.1 L345.4,936.1 L346.4,936.1 L347.4,936.1 L348.4,936.1 L349.4,936.1 L350.4,936.0 L351.4,936.0 L352.4,936.0 L353.4,936.0 L354.4,936.0 L355.4,936.0 L356.4,936.0 L357.4,936.0 L358.4,936.0 L359.4,936.0 L360.4,936.0 L361.3,936.0 L362.3,936.0 L363.3,936.0 L364.3,936.0 L365.3,936.0 L366.3,936.0 L367.3,936.0 L368.3,936.0 L369.3,936.0 L370.3,936.0 L371.3,936.0 L372.3,936.0 L373.3,936.0 L374.3,936.0 L375.3,935.9 L376.3,935.9 L377.3,935.9 L378.3,935.9 L379.3,935.9 L380.3,935.9 L381.3,935.9 L382.3,935.9 L383.3,935.9 L384.2,935.9 L385.2,935.9 L386.2,935.9 L387.2,935.9 L388.2,935.9 L389.2,935.9 L390.2,935.9 L391.2,935.9 L392.2,935.9 L393.2,935.9 L394.2,935.9 L395.2,935.9 L396.2,935.9 L397.2,935.8 L398.2,935.8 L399.2,935.8 L400.2,935.8 L401.2,935.8 L402.2,935.8 L403.2,935.8 L404.2,935.8 L405.2,935.8 L406.1,935.8 L407.1,935.8 L408.1,935.8 L409.1,935.8 L410.1,935.8 L411.1,935.8 L412.1,935.8 L413.1,935.8 L414.1,935.8 L415.1,935.7 L416.1,935.7 L417.1,935.7 L418.1,935.7 L419.1,935.7 L420.1,935.7 L421.1,935.7 L422.1,935.7 L423.1,935.7 L424.1,935.7 L425.1,935.7 L426.1,935.7 L427.1,935.7 L428.1,935.7 L429.0,935.7 L430.0,935.7 L431.0,935.6 L432.0,935.6 L433.0,935.6 L434.0,935.6 L435.0,935.6 L436.0,935.6 L437.0,935.6 L438.0,935.6 L439.0,935.6 L440.0,935.6 L441.0,935.6 L442.0,935.6 L443.0,935.6 L444.0,935.6 L445.0,935.5 L446.0,935.5 L447.0,935.5 L448.0,935.5 L449.0,935.5 L450.0,935.5 L451.0,935.5 L451.9,935.5 L452.9,935.5 L453.9,935.5 L454.9,935.5 L455.9,935.4 L456.9,935.4 L457.9,935.4 L458.9,935.4 L459.9,935.4 L460.9,935.4 L461.9,935.4 L462.9,935.4 L463.9,935.4 L464.9,935.4 L465.9,935.3 L466.9,935.3 L467.9,935.3 L468.9,935.3 L469.9,935.3 L470.9,935.3 L471.9,935.3 L472.9,935.3 L473.8,935.2 L474.8,935.2 L475.8,935.2 L476.8,935.2 L477.8,935.2 L478.8,935.2 L479.8,935.2 L480.8,935.1 L481.8,935.1 L482.8,935.1 L483.8,935.1 L484.8,935.1 L485.8,935.1 L486.8,935.1 L487.8,935.0 L488.8,935.0 L489.8,935.0 L490.8,935.0 L491.8,935.0 L492.8,935.0 L493.8,935.0 L494.8,934.9 L495.8,934.9 L496.7,934.9 L497.7,934.9 L498.7,934.9 L499.7,934.9 L500.7,934.8 L501.7,934.8 L502.7,934.8 L503.7,934.8 L504.7,934.8 L505.7,934.7 L506.7,934.7 L507.7,934.7 L508.7,934.7 L509.7,934.7 L510.7,934.7 L511.7,934.6 L512.7,934.6 L513.7,934.6 L514.7,934.6 L515.7,934.6 L516.7,934.5 L517.7,934.5 L518.6,934.5 L519.6,934.5 L520.6,934.5 L521.6,934.4 L522.6,934.4 L523.6,934.4 L524.6,934.4 L525.6,934.4 L526.6,934.3 L527.6,934.3 L528.6,934.3 L529.6,934.3 L530.6,934.2 L531.6,934.2 L532.6,934.2 L533.6,934.2 L534.6,934.2 L535.6,934.1 L536.6,934.1 L537.6,934.1 L538.6,934.1 L539.6,934.0 L540.6,934.0 L541.5,934.0 L542.5,934.0 L543.5,934.0 L544.5,933.9 L545.5,933.9 L546.5,933.9 L547.5,933.9 L548.5,933.8 L549.5,933.8 L550.5,933.8 L551.5,933.8 L552.5,933.7 L553.5,933.7 L554.5,933.7 L555.5,933.7 L556.5,933.6 L557.5,933.6 L558.5,933.6 L559.5,933.5 L560.5,933.5 L561.5,933.5 L562.5,933.5 L563.5,933.4 L564.4,933.4 L565.4,933.4 L566.4,933.3 L567.4,933.3 L568.4,933.3 L569.4,933.3 L570.4,933.2 L571.4,933.2 L572.4,933.1 L573.4,933.1 L574.4,933.1 L575.4,933.0 L576.4,933.0 L577.4,933.0 L578.4,932.9 L579.4,932.9 L580.4,932.8 L581.4,932.8 L582.4,932.8 L583.4,932.7 L584.4,932.7 L585.4,932.6 L586.3,932.6 L587.3,932.5 L588.3,932.5 L589.3,932.4 L590.3,932.4 L591.3,932.3 L592.3,932.3 L593.3,932.2 L594.3,932.2 L595.3,932.1 L596.3,932.1 L597.3,932.0 L598.3,932.0 L599.3,931.9 L600.3,931.9 L601.3,931.8 L602.3,931.8 L603.3,931.7 L604.3,931.6 L605.3,931.6 L606.3,931.5 L607.3,931.5 L608.3,931.4 L609.2,931.3 L610.2,931.3 L611.2,931.2 L612.2,931.1 L613.2,931.1 L614.2,931.0 L615.2,931.0 L616.2,930.9 L617.2,930.8 L618.2,930.7 L619.2,930.7 L620.2,930.6 L621.2,930.5 L622.2,930.5 L623.2,930.4 L624.2,930.3 L625.2,930.2 L626.2,930.2 L627.2,930.1 L628.2,930.0 L629.2,929.9 L630.2,929.8 L631.1,929.7 L632.1,929.6 L633.1,929.5 L634.1,929.4 L635.1,929.3 L636.1,929.2 L637.1,929.1 L638.1,929.0 L639.1,928.9 L640.1,928.8 L641.1,928.7 L642.1,928.5 L643.1,928.4 L644.1,928.3 L645.1,928.2 L646.1,928.1 L647.1,927.9 L648.1,927.8 L649.1,927.7 L650.1,927.6 L651.1,927.4 L652.1,927.3 L653.1,927.2 L654.0,927.0 L655.0,926.9 L656.0,926.7 L657.0,926.6 L658.0,926.5 L659.0,926.3 L660.0,926.2 L661.0,926.0 L662.0,925.9 L663.0,925.7 L664.0,925.6 L665.0,925.5 L666.0,925.3 L667.0,925.2 L668.0,925.0 L669.0,924.8 L670.0,924.7 L671.0,924.5 L672.0,924.4 L673.0,924.2 L674.0,924.1 L675.0,923.9 L675.9,923.8 L676.9,923.6 L677.9,923.4 L678.9,923.3 L679.9,923.1 L680.9,923.0 L681.9,922.8 L682.9,922.6 L683.9,922.5 L684.9,922.3 L685.9,922.1 L686.9,922.0 L687.9,921.8 L688.9,921.6 L689.9,921.4 L690.9,921.3 L691.9,921.1 L692.9,920.9 L693.9,920.7 L694.9,920.5 L695.9,920.3 L696.9,920.1 L697.9,919.9 L698.8,919.7 L699.8,919.5 L700.8,919.3 L701.8,919.1 L702.8,918.9 L703.8,918.7 L704.8,918.5 L705.8,918.3 L706.8,918.1 L707.8,917.8 L708.8,917.6 L709.8,917.4 L710.8,917.1 L711.8,916.9 L712.8,916.7 L713.8,916.4 L714.8,916.2 L715.8,916.0 L716.8,915.7 L717.8,915.5 L718.8,915.2 L719.8,915.0 L720.8,914.7 L721.7,914.4 L722.7,914.2 L723.7,913.9 L724.7,913.6 L725.7,913.4 L726.7,913.1 L727.7,912.8 L728.7,912.5 L729.7,912.3 L730.7,912.0 L731.7,911.7 L732.7,911.4 L733.7,911.1 L734.7,910.8 L735.7,910.5 L736.7,910.2 L737.7,909.9 L738.7,909.6 L739.7,909.3 L740.7,909.0 L741.7,908.6 L742.7,908.3 L743.6,908.0 L744.6,907.6 L745.6,907.3 L746.6,906.9 L747.6,906.6 L748.6,906.2 L749.6,905.8 L750.6,905.5 L751.6,905.1 L752.6,904.7 L753.6,904.3 L754.6,903.9 L755.6,903.5 L756.6,903.1 L757.6,902.6 L758.6,902.2 L759.6,901.7 L760.6,901.3 L761.6,900.8 L762.6,900.4 L763.6,899.9 L764.6,899.4 L765.6,898.9 L766.5,898.4 L767.5,897.9 L768.5,897.4 L769.5,896.8 L770.5,896.2 L771.5,895.6 L772.5,895.0 L773.5,894.3 L774.5,893.6 L775.5,892.9 L776.5,892.1 L777.5,891.3 L778.5,890.5 L779.5,889.6 L780.5,888.8 L781.5,887.9 L782.5,887.0 L783.5,886.0 L784.5,885.1 L785.5,884.2 L786.5,883.2 L787.5,882.3 L788.4,881.3 L789.4,880.3 L790.4,879.4 L791.4,878.4 L792.4,877.4 L793.4,876.4 L794.4,875.4 L795.4,874.4 L796.4,873.4 L797.4,872.3 L798.4,871.2 L799.4,870.1 L800.4,869.0 L801.4,867.9 L802.4,866.7 L803.4,865.5 L804.4,864.2 L805.4,862.9 L806.4,861.6 L807.4,860.2 L808.4,858.8 L809.4,857.4 L810.4,855.8 L811.3,854.3 L812.3,852.6 L813.3,850.9 L814.3,849.1 L815.3,847.3 L816.3,845.3 L817.3,843.4 L818.3,841.3 L819.3,839.2 L820.3,837.0 L821.3,834.7 L822.3,832.4 L823.3,830.0 L824.3,827.5 L825.3,824.9 L826.3,822.0 L827.3,818.9 L828.3,815.7 L829.3,812.3 L830.3,808.9 L831.3,805.3 L832.3,801.7 L833.3,798.1 L834.2,794.5 L835.2,790.8 L836.2,787.1 L837.2,783.4 L838.2,779.5 L839.2,775.5 L840.2,771.4 L841.2,767.1 L842.2,762.6 L843.2,758.0 L844.2,752.9 L845.2,747.6 L846.2,742.0 L847.2,736.3 L848.2,730.6 L849.2,724.8 L850.2,719.0 L851.2,713.0 L852.2,707.0 L853.2,700.8 L854.2,694.6 L855.2,688.3 L856.1,681.9 L857.1,675.5 L858.1,668.9 L859.1,662.0 L860.1,654.9 L861.1,647.7 L862.1,640.5 L863.1,633.2 L864.1,625.8 L865.1,618.4 L866.1,610.8 L867.1,603.2 L868.1,595.4 L869.1,587.4 L870.1,579.3 L871.1,570.9 L872.1,562.4 L873.1,553.6 L874.1,544.6 L875.1,535.4 L876.1,525.8 L877.1,516.0 L878.1,505.9 L879.0,495.3 L880.0,483.9 L881.0,471.7 L882.0,458.7 L883.0,445.2 L884.0,431.2 L885.0,417.0 L886.0,402.7 L887.0,388.4 L888.0,374.3 L889.0,360.5 L890.0,346.7 L891.0,332.3 L892.0,317.8 L893.0,303.3 L894.0,289.3 L895.0,276.1 L896.0,263.9 L897.0,252.9 L898.0,242.3 L899.0,232.2 L900.0,222.8 L900.9,214.5 L901.9,207.6 L902.9,201.8 L903.9,196.5 L904.9,191.8 L905.9,187.8 L906.9,184.6 L907.9,182.0 L908.9,179.7 L909.9,177.7 L910.9,176.3 L911.9,175.7" fill="none" stroke="#ff0000" stroke-width="13.5" stroke-dasharray="50.30 51.77"/>
<path d="M2157.0,935.9 L2155.6,935.9 L2154.2,935.9 L2152.8,935.9 L2151.5,935.9 L2150.1,935.9 L2148.7,935.9 L2147.3,935.9 L2145.9,935.9 L2144.5,935.9 L2143.2,935.9 L2141.8,935.9 L2140.4,935.9 L2139.0,935.9 L2137.6,935.9 L2136.2,935.9 L2134.9,935.9 L2133.5,935.9 L2132.1,935.9 L2130.7,935.9 L2129.3,935.9 L2127.9,935.9 L2126.6,935.9 L2125.2,935.9 L2123.8,935.9 L2122.4,935.9 L2121.0,935.9 L2119.6,935.9 L2118.3,935.9 L2116.9,935.9 L2115.5,935.9 L2114.1,935.9 L2112.7,935.9 L2111.3,935.9 L2110.0,935.9 L2108.6,935.9 L2107.2,935.9 L2105.8,935.9 L2104.4,935.9 L2103.0,935.9 L2101.7,935.9 L2100.3,935.8 L2098.9,935.8 L2097.5,935.8 L2096.1,935.8 L2094.7,935.8 L2093.4,935.8 L2092.0,935.8 L2090.6,935.8 L2089.2,935.8 L2087.8,935.8 L2086.4,935.8 L2085.1,935.8 L2083.7,935.8 L2082.3,935.8 L2080.9,935.8 L2079.5,935.8 L2078.1,935.8 L2076.8,935.8 L2075.4,935.8 L2074.0,935.8 L2072.6,935.8 L2071.2,935.8 L2069.8,935.8 L2068.5,935.8 L2067.1,935.8 L2065.7,935.8 L2064.3,935.8 L2062.9,935.8 L2061.5,935.8 L2060.2,935.8 L2058.8,935.8 L2057.4,935.8 L2056.0,935.8 L2054.6,935.8 L2053.2,935.8 L2051.9,935.8 L2050.5,935.8 L2049.1,935.8 L2047.7,935.8 L2046.3,935.8 L2044.9,935.8 L2043.6,935.8 L2042.2,935.8 L2040.8,935.8 L2039.4,935.8 L2038.0,935.8 L2036.6,935.8 L2035.3,935.8 L2033.9,935.8 L2032.5,935.8 L2031.1,935.8 L2029.7,935.8 L2028.3,935.8 L2027.0,935.8 L2025.6,935.8 L2024.2,935.8 L2022.8,935.8 L2021.4,935.8 L2020.0,935.8 L2018.7,935.8 L2017.3,935.8 L2015.9,935.8 L2014.5,935.8 L2013.1,935.8 L2011.7,935.8 L2010.4,935.8 L2009.0,935.8 L2007.6,935.8 L2006.2,935.8 L2004.8,935.8 L2003.4,935.8 L2002.1,935.8 L2000.7,935.8 L1999.3,935.8 L1997.9,935.8 L1996.5,935.7 L1995.1,935.7 L1993.8,935.7 L1992.4,935.7 L1991.0,935.7 L1989.6,935.7 L1988.2,935.7 L1986.8,935.7 L1985.5,935.7 L1984.1,935.7 L1982.7,935.7 L1981.3,935.7 L1979.9,935.7 L1978.5,935.7 L1977.2,935.7 L1975.8,935.7 L1974.4,935.7 L1973.0,935.7 L1971.6,935.7 L1970.2,935.7 L1968.9,935.7 L1967.5,935.7 L1966.1,935.7 L1964.7,935.7 L1963.3,935.7 L1961.9,935.7 L1960.6,935.7 L1959.2,935.7 L1957.8,935.7 L1956.4,935.7 L1955.0,935.7 L1953.6,935.7 L1952.3,935.7 L1950.9,935.7 L1949.5,935.7 L1948.1,935.7 L1946.7,935.7 L1945.3,935.7 L1943.9,935.7 L1942.6,935.7 L1941.2,935.7 L1939.8,935.7 L1938.4,935.7 L1937.0,935.7 L1935.6,935.7 L1934.3,935.7 L1932.9,935.7 L1931.5,935.7 L1930.1,935.7 L1928.7,935.7 L1927.3,935.7 L1926.0,935.7 L1924.6,935.7 L1923.2,935.7 L1921.8,935.7 L1920.4,935.7 L1919.0,935.7 L1917.7,935.7 L1916.3,935.7 L1914.9,935.7 L1913.5,935.7 L1912.1,935.7 L1910.7,935.7 L1909.4,935.7 L1908.0,935.6 L1906.6,935.6 L1905.2,935.6 L1903.8,935.6 L1902.4,935.6 L1901.1,935.6 L1899.7,935.6 L1898.3,935.6 L1896.9,935.6 L1895.5,935.6 L1894.1,935.6 L1892.8,935.6 L1891.4,935.6 L1890.0,935.6 L1888.6,935.6 L1887.2,935.6 L1885.8,935.6 L1884.5,935.6 L1883.1,935.6 L1881.7,935.6 L1880.3,935.6 L1878.9,935.6 L1877.5,935.6 L1876.2,935.6 L1874.8,935.6 L1873.4,935.6 L1872.0,935.6 L1870.6,935.6 L1869.2,935.6 L1867.9,935.6 L1866.5,935.6 L1865.1,935.6 L1863.7,935.6 L1862.3,935.6 L1860.9,935.6 L1859.6,935.6 L1858.2,935.6 L1856.8,935.6 L1855.4,935.6 L1854.0,935.6 L1852.6,935.6 L1851.3,935.6 L1849.9,935.6 L1848.5,935.6 L1847.1,935.6 L1845.7,935.6 L1844.3,935.6 L1843.0,935.6 L1841.6,935.6 L1840.2,935.6 L1838.8,935.6 L1837.4,935.5 L1836.0,935.5 L1834.7,935.5 L1833.3,935.5 L1831.9,935.5 L1830.5,935.5 L1829.1,935.5 L1827.7,935.5 L1826.4,935.5 L1825.0,935.5 L1823.6,935.5 L1822.2,935.5 L1820.8,935.5 L1819.4,935.5 L1818.1,935.5 L1816.7,935.5 L1815.3,935.5 L1813.9,935.5 L1812.5,935.5 L1811.1,935.5 L1809.8,935.5 L1808.4,935.5 L1807.0,935.5 L1805.6,935.5 L1804.2,935.5 L1802.8,935.5 L1801.5,935.5 L1800.1,935.5 L1798.7,935.5 L1797.3,935.5 L1795.9,935.5 L1794.5,935.5 L1793.2,935.5 L1791.8,935.5 L1790.4,935.5 L1789.0,935.5 L1787.6,935.5 L1786.2,935.5 L1784.9,935.5 L1783.5,935.5 L1782.1,935.5 L1780.7,935.5 L1779.3,935.5 L1777.9,935.5 L1776.6,935.5 L1775.2,935.5 L1773.8,935.5 L1772.4,935.4 L1771.0,935.4 L1769.6,935.4 L1768.3,935.4 L1766.9,935.4 L1765.5,935.4 L1764.1,935.4 L1762.7,935.4 L1761.3,935.4 L1760.0,935.4 L1758.6,935.4 L1757.2,935.4 L1755.8,935.4 L1754.4,935.4 L1753.0,935.4 L1751.7,935.4 L1750.3,935.4 L1748.9,935.4 L1747.5,935.4 L1746.1,935.4 L1744.7,935.4 L1743.4,935.4 L1742.0,935.4 L1740.6,935.4 L1739.2,935.4 L1737.8,935.4 L1736.4,935.4 L1735.0,935.4 L1733.7,935.4 L1732.3,935.4 L1730.9,935.4 L1729.5,935.4 L1728.1,935.4 L1726.7,935.4 L1725.4,935.4 L1724.0,935.4 L1722.6,935.4 L1721.2,935.4 L1719.8,935.3 L1718.4,935.3 L1717.1,935.3 L1715.7,935.3 L1714.3,935.3 L1712.9,935.3 L1711.5,935.3 L1710.1,935.3 L1708.8,935.3 L1707.4,935.3 L1706.0,935.3 L1704.6,935.3 L1703.2,935.3 L1701.8,935.3 L1700.5,935.3 L1699.1,935.3 L1697.7,935.3 L1696.3,935.3 L1694.9,935.3 L1693.5,935.3 L1692.2,935.3 L1690.8,935.3 L1689.4,935.3 L1688.0,935.3 L1686.6,935.3 L1685.2,935.3 L1683.9,935.3 L1682.5,935.3 L1681.1,935.3 L1679.7,935.3 L1678.3,935.3 L1676.9,935.2 L1675.6,935.2 L1674.2,935.2 L1672.8,935.2 L1671.4,935.2 L1670.0,935.2 L1668.6,935.2 L1667.3,935.2 L1665.9,935.2 L1664.5,935.2 L1663.1,935.2 L1661.7,935.2 L1660.3,935.2 L1659.0,935.2 L1657.6,935.2 L1656.2,935.2 L1654.8,935.2 L1653.4,935.2 L1652.0,935.2 L1650.7,935.2 L1649.3,935.2 L1647.9,935.2 L1646.5,935.2 L1645.1,935.2 L1643.7,935.2 L1642.4,935.2 L1641.0,935.1 L1639.6,935.1 L1638.2,935.1 L1636.8,935.1 L1635.4,935.1 L1634.1,935.1 L1632.7,935.1 L1631.3,935.1 L1629.9,935.1 L1628.5,935.1 L1627.1,935.1 L1625.8,935.1 L1624.4,935.1 L1623.0,935.1 L1621.6,935.1 L1620.2,935.1 L1618.8,935.1 L1617.5,935.1 L1616.1,935.1 L1614.7,935.1 L1613.3,935.1 L1611.9,935.1 L1610.5,935.0 L1609.2,935.0 L1607.8,935.0 L1606.4,935.0 L1605.0,935.0 L1603.6,935.0 L1602.2,935.0 L1600.9,935.0 L1599.5,935.0 L1598.1,935.0 L1596.7,935.0 L1595.3,935.0 L1593.9,935.0 L1592.6,935.0 L1591.2,935.0 L1589.8,935.0 L1588.4,935.0 L1587.0,935.0 L1585.6,934.9 L1584.3,934.9 L1582.9,934.9 L1581.5,934.9 L1580.1,934.9 L1578.7,934.9 L1577.3,934.9 L1576.0,934.9 L1574.6,934.9 L1573.2,934.9 L1571.8,934.9 L1570.4,934.9 L1569.0,934.9 L1567.7,934.8 L1566.3,934.8 L1564.9,934.8 L1563.5,934.8 L1562.1,934.8 L1560.7,934.8 L1559.4,934.8 L1558.0,934.8 L1556.6,934.8 L1555.2,934.8 L1553.8,934.7 L1552.4,934.7 L1551.1,934.7 L1549.7,934.7 L1548.3,934.7 L1546.9,934.7 L1545.5,934.7 L1544.1,934.7 L1542.8,934.7 L1541.4,934.7 L1540.0,934.6 L1538.6,934.6 L1537.2,934.6 L1535.8,934.6 L1534.5,934.6 L1533.1,934.6 L1531.7,934.6 L1530.3,934.6 L1528.9,934.5 L1527.5,934.5 L1526.1,934.5 L1524.8,934.5 L1523.4,934.5 L1522.0,934.5 L1520.6,934.5 L1519.2,934.5 L1517.8,934.4 L1516.5,934.4 L1515.1,934.4 L1513.7,934.4 L1512.3,934.4 L1510.9,934.4 L1509.5,934.4 L1508.2,934.3 L1506.8,934.3 L1505.4,934.3 L1504.0,934.3 L1502.6,934.3 L1501.2,934.3 L1499.9,934.3 L1498.5,934.2 L1497.1,934.2 L1495.7,934.2 L1494.3,934.2 L1492.9,934.2 L1491.6,934.2 L1490.2,934.1 L1488.8,934.1 L1487.4,934.1 L1486.0,934.1 L1484.6,934.1 L1483.3,934.1 L1481.9,934.1 L1480.5,934.0 L1479.1,934.0 L1477.7,934.0 L1476.3,934.0 L1475.0,934.0 L1473.6,934.0 L1472.2,933.9 L1470.8,933.9 L1469.4,933.9 L1468.0,933.9 L1466.7,933.9 L1465.3,933.9 L1463.9,933.8 L1462.5,933.8 L1461.1,933.8 L1459.7,933.8 L1458.4,933.8 L1457.0,933.7 L1455.6,933.7 L1454.2,933.7 L1452.8,933.7 L1451.4,933.7 L1450.1,933.6 L1448.7,933.6 L1447.3,933.6 L1445.9,933.6 L1444.5,933.6 L1443.1,933.5 L1441.8,933.5 L1440.4,933.5 L1439.0,933.5 L1437.6,933.5 L1436.2,933.4 L1434.8,933.4 L1433.5,933.4 L1432.1,933.4 L1430.7,933.3 L1429.3,933.3 L1427.9,933.3 L1426.5,933.3 L1425.2,933.2 L1423.8,933.2 L1422.4,933.2 L1421.0,933.2 L1419.6,933.1 L1418.2,933.1 L1416.9,933.1 L1415.5,933.1 L1414.1,933.0 L1412.7,933.0 L1411.3,933.0 L1409.9,932.9 L1408.6,932.9 L1407.2,932.9 L1405.8,932.9 L1404.4,932.8 L1403.0,932.8 L1401.6,932.8 L1400.3,932.7 L1398.9,932.7 L1397.5,932.7 L1396.1,932.6 L1394.7,932.6 L1393.3,932.6 L1392.0,932.5 L1390.6,932.5 L1389.2,932.5 L1387.8,932.4 L1386.4,932.4 L1385.0,932.4 L1383.7,932.3 L1382.3,932.3 L1380.9,932.3 L1379.5,932.2 L1378.1,932.2 L1376.7,932.2 L1375.4,932.1 L1374.0,932.1 L1372.6,932.1 L1371.2,932.0 L1369.8,932.0 L1368.4,932.0 L1367.1,931.9 L1365.7,931.9 L1364.3,931.8 L1362.9,931.8 L1361.5,931.8 L1360.1,931.7 L1358.8,931.7 L1357.4,931.6 L1356.0,931.6 L1354.6,931.6 L1353.2,931.5 L1351.8,931.5 L1350.5,931.5 L1349.1,931.4 L1347.7,931.4 L1346.3,931.3 L1344.9,931.3 L1343.5,931.2 L1342.2,931.2 L1340.8,931.2 L1339.4,931.1 L1338.0,931.1 L1336.6,931.0 L1335.2,931.0 L1333.9,930.9 L1332.5,930.9 L1331.1,930.9 L1329.7,930.8 L1328.3,930.8 L1326.9,930.7 L1325.6,930.7 L1324.2,930.6 L1322.8,930.6 L1321.4,930.5 L1320.0,930.5 L1318.6,930.5 L1317.2,930.4 L1315.9,930.4 L1314.5,930.3 L1313.1,930.3 L1311.7,930.2 L1310.3,930.2 L1308.9,930.1 L1307.6,930.1 L1306.2,930.0 L1304.8,930.0 L1303.4,929.9 L1302.0,929.9 L1300.6,929.8 L1299.3,929.8 L1297.9,929.7 L1296.5,929.6 L1295.1,929.6 L1293.7,929.5 L1292.3,929.5 L1291.0,929.4 L1289.6,929.3 L1288.2,929.3 L1286.8,929.2 L1285.4,929.1 L1284.0,929.1 L1282.7,929.0 L1281.3,928.9 L1279.9,928.8 L1278.5,928.8 L1277.1,928.7 L1275.7,928.6 L1274.4,928.5 L1273.0,928.4 L1271.6,928.4 L1270.2,928.3 L1268.8,928.2 L1267.4,928.1 L1266.1,928.0 L1264.7,928.0 L1263.3,927.9 L1261.9,927.8 L1260.5,927.7 L1259.1,927.6 L1257.8,927.6 L1256.4,927.5 L1255.0,927.4 L1253.6,927.3 L1252.2,927.2 L1250.8,927.2 L1249.5,927.1 L1248.1,927.0 L1246.7,926.9 L1245.3,926.8 L1243.9,926.7 L1242.5,926.7 L1241.2,926.6 L1239.8,926.5 L1238.4,926.4 L1237.0,926.3 L1235.6,926.2 L1234.2,926.2 L1232.9,926.1 L1231.5,926.0 L1230.1,925.9 L1228.7,925.8 L1227.3,925.7 L1225.9,925.6 L1224.6,925.5 L1223.2,925.4 L1221.8,925.3 L1220.4,925.2 L1219.0,925.1 L1217.6,925.0 L1216.3,924.9 L1214.9,924.8 L1213.5,924.7 L1212.1,924.6 L1210.7,924.5 L1209.3,924.4 L1208.0,924.3 L1206.6,924.2 L1205.2,924.1 L1203.8,924.0 L1202.4,923.8 L1201.0,923.7 L1199.7,923.6 L1198.3,923.5 L1196.9,923.3 L1195.5,923.2 L1194.1,923.1 L1192.7,922.9 L1191.4,922.8 L1190.0,922.7 L1188.6,922.5 L1187.2,922.4 L1185.8,922.2 L1184.4,922.1 L1183.1,921.9 L1181.7,921.8 L1180.3,921.6 L1178.9,921.4 L1177.5,921.3 L1176.1,921.1 L1174.8,920.9 L1173.4,920.8 L1172.0,920.6 L1170.6,920.4 L1169.2,920.2 L1167.8,920.0 L1166.5,919.8 L1165.1,919.7 L1163.7,919.5 L1162.3,919.3 L1160.9,919.1 L1159.5,918.9 L1158.2,918.6 L1156.8,918.4 L1155.4,918.2 L1154.0,918.0 L1152.6,917.8 L1151.2,917.6 L1149.9,917.3 L1148.5,917.1 L1147.1,916.8 L1145.7,916.6 L1144.3,916.3 L1142.9,916.1 L1141.6,915.8 L1140.2,915.5 L1138.8,915.3 L1137.4,915.0 L1136.0,914.7 L1134.6,914.4 L1133.3,914.1 L1131.9,913.8 L1130.5,913.5 L1129.1,913.2 L1127.7,912.9 L1126.3,912.5 L1125.0,912.2 L1123.6,911.9 L1122.2,911.5 L1120.8,911.2 L1119.4,910.8 L1118.0,910.5 L1116.7,910.1 L1115.3,909.7 L1113.9,909.4 L1112.5,909.0 L1111.1,908.6 L1109.7,908.2 L1108.3,907.8 L1107.0,907.4 L1105.6,907.0 L1104.2,906.6 L1102.8,906.2 L1101.4,905.8 L1100.0,905.4 L1098.7,905.0 L1097.3,904.5 L1095.9,904.1 L1094.5,903.7 L1093.1,903.2 L1091.7,902.7 L1090.4,902.3 L1089.0,901.8 L1087.6,901.3 L1086.2,900.8 L1084.8,900.3 L1083.4,899.8 L1082.1,899.3 L1080.7,898.7 L1079.3,898.2 L1077.9,897.6 L1076.5,897.0 L1075.1,896.4 L1073.8,895.8 L1072.4,895.2 L1071.0,894.5 L1069.6,893.9 L1068.2,893.2 L1066.8,892.5 L1065.5,891.8 L1064.1,891.1 L1062.7,890.4 L1061.3,889.6 L1059.9,888.8 L1058.5,888.0 L1057.2,887.2 L1055.8,886.4 L1054.4,885.5 L1053.0,884.6 L1051.6,883.6 L1050.2,882.7 L1048.9,881.7 L1047.5,880.6 L1046.1,879.6 L1044.7,878.5 L1043.3,877.3 L1041.9,876.2 L1040.6,875.0 L1039.2,873.7 L1037.8,872.5 L1036.4,871.2 L1035.0,869.9 L1033.6,868.5 L1032.3,867.1 L1030.9,865.7 L1029.5,864.3 L1028.1,862.8 L1026.7,861.3 L1025.3,859.7 L1024.0,858.1 L1022.6,856.5 L1021.2,854.9 L1019.8,853.2 L1018.4,851.5 L1017.0,849.8 L1015.7,848.0 L1014.3,846.1 L1012.9,844.1 L1011.5,842.0 L1010.1,839.8 L1008.7,837.4 L1007.4,835.0 L1006.0,832.5 L1004.6,829.9 L1003.2,827.2 L1001.8,824.4 L1000.4,821.5 L999.1,818.6 L997.7,815.6 L996.3,812.5 L994.9,809.4 L993.5,806.2 L992.1,802.9 L990.8,799.5 L989.4,796.0 L988.0,792.4 L986.6,788.7 L985.2,784.8 L983.8,780.7 L982.5,776.6 L981.1,772.2 L979.7,767.7 L978.3,763.1 L976.9,758.2 L975.5,753.2 L974.2,747.9 L972.8,742.0 L971.4,735.6 L970.0,728.7 L968.6,721.6 L967.2,714.4 L965.9,707.1 L964.5,700.0 L963.1,693.0 L961.7,685.9 L960.3,678.7 L958.9,671.0 L957.6,662.8 L956.2,653.9 L954.8,644.0 L953.4,633.1 L952.0,620.0 L950.6,603.7 L949.3,585.2 L947.9,565.2 L946.5,544.6 L945.1,524.3 L943.7,504.6 L942.3,484.2 L941.0,463.3 L939.6,443.0 L938.2,423.9 L936.8,405.9 L935.4,388.5 L934.0,371.5 L932.7,354.9 L931.3,338.5 L929.9,322.1 L928.5,305.6 L927.1,289.0 L925.7,272.7 L924.4,256.8 L923.0,241.6 L921.6,227.3 L920.2,213.3 L918.8,199.2 L917.4,188.6 L916.1,183.3 L914.7,179.4 L913.3,176.7 L911.9,175.7" fill="none" stroke="#ff0000" stroke-width="13.5" stroke-dasharray="50.30 52.12" stroke-dashoffset="69.82"/>
<text x="196.5" y="62.9" text-anchor="end" font-size="69.5" font-weight="bold" fill="#262626" textLength="90" lengthAdjust="spacingAndGlyphs">0.6</text>
<text x="196.5" y="213.1" text-anchor="end" font-size="69.5" font-weight="bold" fill="#262626" textLength="90" lengthAdjust="spacingAndGlyphs">0.5</text>
<text x="196.5" y="363.3" text-anchor="end" font-size="69.5" font-weight="bold" fill="#262626" textLength="90" lengthAdjust="spacingAndGlyphs">0.4</text>
<text x="196.5" y="513.5" text-anchor="end" font-size="69.5" font-weight="bold" fill="#262626" textLength="90" lengthAdjust="spacingAndGlyphs">0.3</text>
<text x="196.5" y="663.7" text-anchor="end" font-size="69.5" font-weight="bold" fill="#262626" textLength="90" lengthAdjust="spacingAndGlyphs">0.2</text>
<text x="196.5" y="813.9" text-anchor="end" font-size="69.5" font-weight="bold" fill="#262626" textLength="90" lengthAdjust="spacingAndGlyphs">0.1</text>
<text x="196.5" y="964.1" text-anchor="end" font-size="69.5" font-weight="bold" fill="#262626">0</text>
<text x="221.0" y="1017.3" text-anchor="middle" font-size="68" font-weight="bold" fill="#000" textLength="37" lengthAdjust="spacingAndGlyphs">5</text>
<text x="490.0" y="1017.3" text-anchor="middle" font-size="68" font-weight="bold" fill="#000" textLength="37" lengthAdjust="spacingAndGlyphs">6</text>
<text x="757.0" y="1017.3" text-anchor="middle" font-size="68" font-weight="bold" fill="#000" textLength="37" lengthAdjust="spacingAndGlyphs">7</text>
<text x="1044.5" y="1017.3" text-anchor="middle" font-size="68" font-weight="bold" fill="#000" textLength="37" lengthAdjust="spacingAndGlyphs">8</text>
<text x="1331.0" y="1017.3" text-anchor="middle" font-size="68" font-weight="bold" fill="#000" textLength="37" lengthAdjust="spacingAndGlyphs">9</text>
<text x="1598.7" y="1017.3" text-anchor="middle" font-size="68" font-weight="bold" fill="#000" textLength="73" lengthAdjust="spacingAndGlyphs">10</text>
<text x="1868.0" y="1017.3" text-anchor="middle" font-size="68" font-weight="bold" fill="#000" textLength="73" lengthAdjust="spacingAndGlyphs">11</text>
<text x="2156.0" y="1017.3" text-anchor="middle" font-size="68" font-weight="bold" fill="#000" textLength="73" lengthAdjust="spacingAndGlyphs">12</text>
<text x="1270" y="1075.5" text-anchor="middle" font-size="64" font-weight="bold" fill="#1a1a1a" textLength="507" lengthAdjust="spacingAndGlyphs">Wavelength (µm)</text>
<text transform="translate(87.8,445.5) rotate(-90)" text-anchor="middle" font-size="70.7" font-weight="bold" fill="#000">Transmission</text>
<rect x="1772.4" y="70.1" width="346.4" height="149.8" fill="#fff" stroke="#262626" stroke-width="2"/>
<line x1="1789" y1="111" x2="1904" y2="111" stroke="#0000c0" stroke-width="10"/>
<line x1="1787" y1="178.7" x2="1848" y2="178.7" stroke="#f00a0a" stroke-width="14"/>
<rect x="1899" y="172" width="7.5" height="14" fill="#e01030"/>
<text x="1910" y="131" font-size="57.5" font-weight="bold" fill="#000" textLength="168" lengthAdjust="spacingAndGlyphs">FDTD</text>
<text x="1911" y="197" font-size="57.5" font-weight="bold" fill="#000" textLength="192" lengthAdjust="spacingAndGlyphs">Theory</text>
<text x="1117.8" y="1178.3" text-anchor="middle" font-size="72" fill="#000" textLength="79" lengthAdjust="spacingAndGlyphs">(<tspan font-weight="bold">a</tspan>)</text>
</g>
<g id="panel-b">
<filter id="fb2" filterUnits="userSpaceOnUse" x="422" y="1032" width="1434" height="1645" color-interpolation-filters="sRGB"><feGaussianBlur stdDeviation="2"/></filter>
<filter id="fb3" filterUnits="userSpaceOnUse" x="422" y="1032" width="1434" height="1645" color-interpolation-filters="sRGB"><feGaussianBlur stdDeviation="3"/></filter>
<filter id="fb5" filterUnits="userSpaceOnUse" x="422" y="1032" width="1434" height="1645" color-interpolation-filters="sRGB"><feGaussianBlur stdDeviation="5"/></filter>
<filter id="fb8" filterUnits="userSpaceOnUse" x="422" y="1032" width="1434" height="1645" color-interpolation-filters="sRGB"><feGaussianBlur stdDeviation="8"/></filter>
<filter id="fb14" filterUnits="userSpaceOnUse" x="422" y="1032" width="1434" height="1645" color-interpolation-filters="sRGB"><feGaussianBlur stdDeviation="14"/></filter>
<filter id="fb25" filterUnits="userSpaceOnUse" x="422" y="1032" width="1434" height="1645" color-interpolation-filters="sRGB"><feGaussianBlur stdDeviation="25"/></filter>
<filter id="fb45" filterUnits="userSpaceOnUse" x="422" y="1032" width="1434" height="1645" color-interpolation-filters="sRGB"><feGaussianBlur stdDeviation="45"/></filter>
<filter id="fb80" filterUnits="userSpaceOnUse" x="422" y="1032" width="1434" height="1645" color-interpolation-filters="sRGB"><feGaussianBlur stdDeviation="80"/></filter>
<clipPath id="clipb"><rect x="682.0" y="1292.0" width="914.0" height="1125.0"/></clipPath>
<rect x="682.0" y="1292.0" width="914.0" height="1125.0" fill="#00008e"/>
<g clip-path="url(#clipb)">
<rect x="672.0" y="1282.0" width="934.0" height="1145.0" fill="none" stroke="#000070" stroke-width="120" filter="url(#fb45)" opacity="0.85"/>
<rect x="1330" y="1250" width="300" height="1200" fill="#000078" opacity="0.5" filter="url(#fb80)"/>
<g filter="url(#fb45)" opacity="0.85">
<ellipse cx="1225" cy="1760" rx="240" ry="270" fill="#0000d4"/>
<rect x="1140" y="1200" width="170" height="450" fill="#0000c0"/>
<rect x="760" y="1890" width="500" height="140" fill="#0000c8"/>
</g>
<g filter="url(#fb25)">
<path d="M1106,1640 L1191,1606 L1260,1606 L1342,1640 L1301,1759 L1342,1875 L1262,1905 L1230,1915 L1208,1905 L1106,1875 L1150,1759 Z" fill="#0000f0" stroke="#0000ff" stroke-width="90" stroke-linejoin="round"/>
<path d="M1174,1200 V1600 M1276,1200 V1600" stroke="#0000ff" stroke-width="40"/>
<rect x="790" y="1915" width="430" height="90" fill="#0000f0" opacity="0.85"/>
</g>
<g filter="url(#fb14)">
<ellipse cx="1226" cy="1759" rx="75" ry="34" fill="#0058ff"/>
<circle cx="1166" cy="1759" r="16" fill="#00a8ff"/><circle cx="1286" cy="1759" r="16" fill="#00a8ff"/>
</g>
<g filter="url(#fb8)">
<path d="M1174,1260 V1600 M1276,1260 V1600" stroke="#0018ff" stroke-width="18" fill="none"/>
<path d="M1106,1640 L1191,1606 L1260,1606 L1342,1640 L1301,1759 L1342,1875 L1262,1905 L1230,1915 L1208,1905 L1106,1875 L1150,1759 Z" fill="none" stroke="#0078ff" stroke-width="30" stroke-linejoin="round"/>
<path d="M1130,1658 L1196,1631 L1255,1631 L1318,1658" stroke="#000068" stroke-width="16" fill="none" opacity="0.85"/>
<path d="M1132,1860 L1208,1883 L1262,1883 L1316,1860" stroke="#000068" stroke-width="14" fill="none" opacity="0.75"/>
<path d="M786,1926.6 H1060 M769,2000.6 H1237 M1237,1915 V1995" stroke="#0030ff" stroke-width="8" fill="none"/>
</g>
<path d="M1106,1640 L1191,1606 L1260,1606 L1342,1640 L1301,1759 L1342,1875 L1262,1905 L1230,1915 L1208,1905 L1106,1875 L1150,1759 Z" fill="none" stroke="#00b0ff" stroke-width="19" stroke-linejoin="round" filter="url(#fb5)"/>
<g filter="url(#fb2)">
<path d="M1106,1640 L1191,1606 L1260,1606 L1342,1640 L1301,1759 L1342,1875 L1262,1905 L1230,1915 L1208,1905 L1106,1875 L1150,1759 Z" fill="none" stroke="#20eef0" stroke-width="12" stroke-linejoin="round"/>
<path d="M1106,1640 L1191,1606 L1260,1606 L1342,1640 M1342,1875 L1262,1905 L1230,1915 L1208,1905 L1106,1875" fill="none" stroke="#30f0f0" stroke-width="13" stroke-linejoin="round"/>
<path d="M1109,1647 l1,3 M1339,1647 l-1,3 M1109,1866 l1,-3 M1339,1866 l-1,-3" stroke="#b8f8d8" stroke-width="8" stroke-linecap="round" fill="none"/>
<path d="M1112,1638 l3,1 M1336,1638 l-3,1 M1112,1877 l3,-1 M1336,1877 l-3,-1" stroke="#001838" stroke-width="8" stroke-linecap="round" fill="none"/>
<path d="M1182,1598 H1270" stroke="#20e8c0" stroke-width="18" fill="none"/>
<path d="M1195,1908 L1230,1918 L1262,1908" stroke="#20e8c0" stroke-width="12" fill="none"/>
<path d="M1237,1915 V1990 Q1237,2001 1200,2001" stroke="#00b8ff" stroke-width="7" fill="none"/>
<path d="M786,1926.6 H960 M769,2000.6 H1200" stroke="#0050ff" stroke-width="4" fill="none"/>
</g>
</g>
<g clip-path="url(#clipb)">
<rect x="680.0" y="1290.0" width="918.0" height="1129.0" fill="none" stroke="#000010" stroke-width="14" filter="url(#fb5)" opacity="0.9"/>
<path d="M682.0,1292.0 V2417.0 H1596.0" fill="none" stroke="#000" stroke-width="8"/>
<path d="M682.0,1292.0 H1596.0 V2417.0" fill="none" stroke="#000018" stroke-width="9" opacity="0.85"/>
</g>
<path d="M684.8,1212 L707,1271 L665,1271 Z" fill="#000"/><rect x="682" y="1270" width="4.3" height="24" fill="#000"/>
<path d="M1672,2413 L1617,2392 L1617,2434 Z" fill="#000"/><rect x="1594" y="2413.2" width="24" height="3.6" fill="#000"/>
<rect x="1638.0" y="1334.0" width="41.8" height="1041.0" fill="url(#jet)"/>
<rect x="1638.0" y="1334.0" width="41.8" height="1041.0" fill="url(#cbsh)"/>
<line x1="1678.8" y1="1340.4" x2="1697.0" y2="1340.4" stroke="#000" stroke-width="3"/>
<text x="1706.0" y="1378.9" font-size="100" fill="#000">3.2</text>
<line x1="1678.8" y1="1470.4" x2="1697.0" y2="1470.4" stroke="#000" stroke-width="3"/>
<text x="1706.0" y="1496.3" font-size="100" fill="#000">2.8</text>
<line x1="1638.0" y1="1597.8" x2="1679.8" y2="1597.8" stroke="#000" stroke-opacity="0.75" stroke-width="3"/>
<line x1="1678.8" y1="1597.8" x2="1697.0" y2="1597.8" stroke="#000" stroke-width="3"/>
<text x="1706.0" y="1613.7" font-size="100" fill="#000">2.4</text>
<line x1="1638.0" y1="1728.3" x2="1679.8" y2="1728.3" stroke="#000" stroke-opacity="0.75" stroke-width="3"/>
<line x1="1678.8" y1="1728.3" x2="1697.0" y2="1728.3" stroke="#000" stroke-width="3"/>
<text x="1706.0" y="1761.5" font-size="100" fill="#000">2.0</text>
<line x1="1638.0" y1="1857.8" x2="1679.8" y2="1857.8" stroke="#000" stroke-opacity="0.75" stroke-width="3"/>
<line x1="1678.8" y1="1857.8" x2="1697.0" y2="1857.8" stroke="#000" stroke-width="3"/>
<text x="1706.0" y="1883.3" font-size="100" fill="#000">1.6</text>
<line x1="1638.0" y1="1984.8" x2="1679.8" y2="1984.8" stroke="#000" stroke-opacity="0.75" stroke-width="3"/>
<line x1="1678.8" y1="1984.8" x2="1697.0" y2="1984.8" stroke="#000" stroke-width="3"/>
<text x="1706.0" y="2022.4" font-size="100" fill="#000">1.2</text>
<line x1="1638.0" y1="2116.0" x2="1679.8" y2="2116.0" stroke="#000" stroke-opacity="0.75" stroke-width="3"/>
<line x1="1678.8" y1="2116.0" x2="1697.0" y2="2116.0" stroke="#000" stroke-width="3"/>
<text x="1706.0" y="2146.3" font-size="100" fill="#000">0.8</text>
<line x1="1678.8" y1="2241.3" x2="1697.0" y2="2241.3" stroke="#000" stroke-width="3"/>
<text x="1709.0" y="2274.5" font-size="100" fill="#000">0.4</text>
<line x1="1678.8" y1="2372.6" x2="1697.0" y2="2372.6" stroke="#000" stroke-width="3"/>
<text x="1706.0" y="2398.5" font-size="100" fill="#000">0.0</text>
<text x="652.9" y="1362.6" text-anchor="end" font-size="100" fill="#000">190</text>
<text x="662.0" y="1565.5" text-anchor="end" font-size="100" fill="#000">140</text>
<text x="668.9" y="1787.5" text-anchor="end" font-size="100" fill="#000">90</text>
<text x="657.5" y="2015.8" text-anchor="end" font-size="100" fill="#000">40</text>
<text x="666.5" y="2226.9" text-anchor="end" font-size="100" fill="#000" textLength="139" lengthAdjust="spacingAndGlyphs">-10</text>
<text x="748.5" y="2507.5" text-anchor="middle" font-size="100" fill="#000" textLength="156" lengthAdjust="spacingAndGlyphs">200</text>
<text x="1052.0" y="2514.5" text-anchor="middle" font-size="100" fill="#000" textLength="156" lengthAdjust="spacingAndGlyphs">400</text>
<text x="1370.0" y="2507.5" text-anchor="middle" font-size="100" fill="#000" textLength="156" lengthAdjust="spacingAndGlyphs">600</text>
<text x="1061" y="2615" text-anchor="middle" font-size="100" fill="#000">x (nm)</text>
<text transform="translate(468,1739.3) rotate(-90)" text-anchor="middle" font-size="100" fill="#000" textLength="280" lengthAdjust="spacingAndGlyphs">y (nm)</text>
<text x="1117.9" y="2724" text-anchor="middle" font-size="72" fill="#000" textLength="88" lengthAdjust="spacingAndGlyphs">(<tspan font-weight="bold">b</tspan>)</text>
</g>
<g id="panel-c">
<filter id="fc2" filterUnits="userSpaceOnUse" x="420" y="2586" width="1446" height="1660" color-interpolation-filters="sRGB"><feGaussianBlur stdDeviation="2"/></filter>
<filter id="fc3" filterUnits="userSpaceOnUse" x="420" y="2586" width="1446" height="1660" color-interpolation-filters="sRGB"><feGaussianBlur stdDeviation="3"/></filter>
<filter id="fc5" filterUnits="userSpaceOnUse" x="420" y="2586" width="1446" height="1660" color-interpolation-filters="sRGB"><feGaussianBlur stdDeviation="5"/></filter>
<filter id="fc8" filterUnits="userSpaceOnUse" x="420" y="2586" width="1446" height="1660" color-interpolation-filters="sRGB"><feGaussianBlur stdDeviation="8"/></filter>
<filter id="fc14" filterUnits="userSpaceOnUse" x="420" y="2586" width="1446" height="1660" color-interpolation-filters="sRGB"><feGaussianBlur stdDeviation="14"/></filter>
<filter id="fc25" filterUnits="userSpaceOnUse" x="420" y="2586" width="1446" height="1660" color-interpolation-filters="sRGB"><feGaussianBlur stdDeviation="25"/></filter>
<filter id="fc45" filterUnits="userSpaceOnUse" x="420" y="2586" width="1446" height="1660" color-interpolation-filters="sRGB"><feGaussianBlur stdDeviation="45"/></filter>
<filter id="fc80" filterUnits="userSpaceOnUse" x="420" y="2586" width="1446" height="1660" color-interpolation-filters="sRGB"><feGaussianBlur stdDeviation="80"/></filter>
<clipPath id="clipc"><rect x="680.0" y="2846.0" width="926.0" height="1140.0"/></clipPath>
<rect x="680.0" y="2846.0" width="926.0" height="1140.0" fill="#000078"/>
<g clip-path="url(#clipc)">
<rect x="670.0" y="2836.0" width="946.0" height="1160.0" fill="none" stroke="#000058" stroke-width="50" filter="url(#fc45)" opacity="0.70"/>
<g filter="url(#fc80)" opacity="0.8">
<rect x="540" y="3440" width="720" height="160" fill="#0000c0"/>
<ellipse cx="900" cy="3760" rx="300" ry="120" fill="#000098" opacity="0.5"/>
</g>
<g filter="url(#fc25)">
<rect x="600" y="3428" width="660" height="180" fill="#0000ff"/>
<rect x="1010" y="3420" width="250" height="196" fill="#0000ff" opacity="0.7"/>
</g>
<g filter="url(#fc8)">
<rect x="640" y="3468" width="400" height="100" fill="#0020ec"/>
<path d="M640,3467 H1245 M640,3568 H1245 M1040,3468 V3592 M1123.5,3468 V3568 M1220,3468 V3568 M1245,3468 V3568" stroke="#0098ff" stroke-width="24" fill="none"/>
</g>
<g filter="url(#fc3)">
<path d="M640,3467 H1244 M640,3568 H1244" stroke="#10e8f0" stroke-width="10" fill="none"/>
<path d="M1047,3466 V3570" stroke="#08c8f8" stroke-width="15" fill="none"/>
<path d="M1033,3566 V3592" stroke="#08c8f8" stroke-width="10" fill="none"/>
<path d="M1123.5,3468 V3568" stroke="#10e8f0" stroke-width="34" fill="none"/>
<path d="M1219.5,3466 V3570" stroke="#10e8f0" stroke-width="47" fill="none"/>
<path d="M1250,3468 Q1260,3518 1250,3568" stroke="#78c0ff" stroke-width="5" fill="none"/>
</g>
<g filter="url(#fc5)">
<rect x="1063" y="3479" width="31" height="78" rx="9" fill="#0000b4"/>
<rect x="1153" y="3479" width="31" height="78" rx="9" fill="#0000b4"/>
</g>
<g filter="url(#fc3)">
<ellipse cx="1078" cy="3465" rx="13" ry="5" fill="#00b8a0"/><ellipse cx="1170" cy="3465" rx="13" ry="5" fill="#00b8a0"/>
<ellipse cx="1078" cy="3570" rx="13" ry="5" fill="#00b8a0"/><ellipse cx="1170" cy="3570" rx="13" ry="5" fill="#00b8a0"/>
</g>
<path d="M1245.5,3472 V3564" stroke="#003060" stroke-width="3" fill="none" opacity="0.8"/>
</g>
<g clip-path="url(#clipc)">
<rect x="678.0" y="2844.0" width="930.0" height="1144.0" fill="none" stroke="#000010" stroke-width="14" filter="url(#fc5)" opacity="0.9"/>
<path d="M680.0,2846.0 V3986.0 H1606.0" fill="none" stroke="#000" stroke-width="8"/>
<path d="M680.0,2846.0 H1606.0 V3986.0" fill="none" stroke="#000018" stroke-width="9" opacity="0.85"/>
</g>
<path d="M683,2765 L706,2824.5 L663,2824.5 Z" fill="#000"/><rect x="680" y="2823" width="4.6" height="24" fill="#000"/>
<path d="M1683,3982 L1628.5,3960.5 L1628.5,4003 Z" fill="#000"/><rect x="1604" y="3982" width="26" height="4" fill="#000"/>
<rect x="1649.1" y="2889.0" width="42.8" height="1053.8" fill="url(#jet)"/>
<rect x="1649.1" y="2889.0" width="42.8" height="1053.8" fill="url(#cbsh)"/>
<line x1="1690.9" y1="2925.2" x2="1709.0" y2="2925.2" stroke="#000" stroke-width="3"/>
<text x="1723.0" y="2959.1" font-size="100" fill="#000">1.8</text>
<line x1="1649.1" y1="3092.0" x2="1691.9" y2="3092.0" stroke="#000" stroke-opacity="0.75" stroke-width="3"/>
<line x1="1690.9" y1="3092.0" x2="1709.0" y2="3092.0" stroke="#000" stroke-width="3"/>
<text x="1723.0" y="3118.4" font-size="100" fill="#000">1.5</text>
<line x1="1649.1" y1="3262.0" x2="1691.9" y2="3262.0" stroke="#000" stroke-opacity="0.75" stroke-width="3"/>
<line x1="1690.9" y1="3262.0" x2="1709.0" y2="3262.0" stroke="#000" stroke-width="3"/>
<text x="1721.0" y="3293.2" font-size="100" fill="#000">1.2</text>
<line x1="1649.1" y1="3432.7" x2="1691.9" y2="3432.7" stroke="#000" stroke-opacity="0.75" stroke-width="3"/>
<line x1="1690.9" y1="3432.7" x2="1709.0" y2="3432.7" stroke="#000" stroke-width="3"/>
<text x="1721.0" y="3468.0" font-size="100" fill="#000">0.9</text>
<line x1="1649.1" y1="3600.0" x2="1691.9" y2="3600.0" stroke="#000" stroke-opacity="0.75" stroke-width="3"/>
<line x1="1690.9" y1="3600.0" x2="1709.0" y2="3600.0" stroke="#000" stroke-width="3"/>
<text x="1721.0" y="3629.5" font-size="100" fill="#000">0.6</text>
<line x1="1690.9" y1="3770.4" x2="1709.0" y2="3770.4" stroke="#000" stroke-width="3"/>
<text x="1717.0" y="3799.8" font-size="100" fill="#000">0.3</text>
<line x1="1690.9" y1="3941.0" x2="1709.0" y2="3941.0" stroke="#000" stroke-width="3"/>
<text x="1721.0" y="3970.2" font-size="100" fill="#000">0.0</text>
<text x="658.7" y="2916.8" text-anchor="end" font-size="100" fill="#000">190</text>
<text x="666.3" y="3122.0" text-anchor="end" font-size="100" fill="#000">140</text>
<text x="677.0" y="3348.0" text-anchor="end" font-size="100" fill="#000">90</text>
<text x="663.3" y="3579.0" text-anchor="end" font-size="100" fill="#000">40</text>
<text x="675.5" y="3791.0" text-anchor="end" font-size="100" fill="#000" textLength="145" lengthAdjust="spacingAndGlyphs">-10</text>
<text x="735.0" y="4074.0" text-anchor="middle" font-size="100" fill="#000" textLength="156" lengthAdjust="spacingAndGlyphs">200</text>
<text x="1043.0" y="4082.5" text-anchor="middle" font-size="100" fill="#000" textLength="156" lengthAdjust="spacingAndGlyphs">400</text>
<text x="1364.0" y="4074.0" text-anchor="middle" font-size="100" fill="#000" textLength="156" lengthAdjust="spacingAndGlyphs">600</text>
<text x="1051" y="4183" text-anchor="middle" font-size="100" fill="#000">x (nm)</text>
<text transform="translate(466.5,3388.5) rotate(-90)" text-anchor="middle" font-size="100" fill="#000" textLength="280" lengthAdjust="spacingAndGlyphs">y (nm)</text>
<text x="1117.9" y="4290.7" text-anchor="middle" font-size="72" fill="#000" textLength="77" lengthAdjust="spacingAndGlyphs">(<tspan font-weight="bold">c</tspan>)</text>
</g>
</svg></body></html>
